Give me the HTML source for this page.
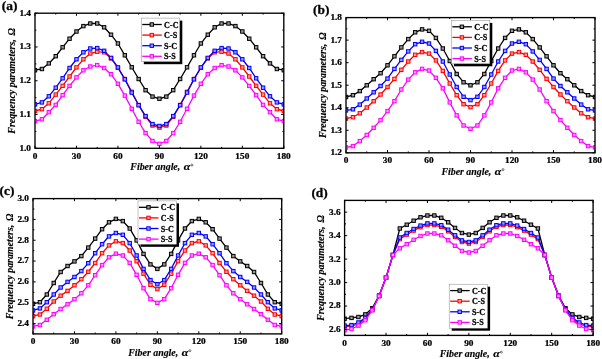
<!DOCTYPE html>
<html><head><meta charset="utf-8"><style>
html,body{margin:0;padding:0;background:#fff;}
svg{display:block;will-change:transform;}
text{font-family:"Liberation Serif",serif;font-weight:bold;fill:#000;}
.tk{font-size:8.3px;stroke:#000;stroke-width:0.25px;}
.ti{font-size:9.9px;font-style:italic;stroke:#000;stroke-width:0.15px;}
.al{font-size:9.9px;font-style:italic;stroke:#000;stroke-width:0.15px;}
.lg{font-size:8.7px;stroke:#000;stroke-width:0.25px;}
.lab{font-size:13.4px;stroke:#000;stroke-width:0.3px;}
</style></head><body>
<svg width="602" height="359" viewBox="0 0 602 359">
<rect width="602" height="359" fill="#fff"/>
<g><clipPath id="c0"><rect x="35" y="13.2" width="248.8" height="135.1"/></clipPath><g clip-path="url(#c0)">
<polyline points="35,70.2 41.91,69 48.82,63.4 55.73,56.2 62.64,47.3 69.56,38.7 76.47,31.5 83.38,26.1 90.29,23.5 97.2,23.5 104.11,27.3 111.02,34.7 117.93,43.5 124.84,55.3 131.76,67.3 138.67,79 145.58,90.2 152.49,96.6 159.4,98.7 166.31,96.6 173.22,90.2 180.13,79 187.04,67.3 193.96,55.3 200.87,43.5 207.78,34.7 214.69,27.3 221.6,23.5 228.51,23.5 235.42,26.1 242.33,31.5 249.24,38.7 256.16,47.3 263.07,56.2 269.98,63.4 276.89,69 283.8,70.2" fill="none" stroke="#000000" stroke-width="1.3"/>
<rect x="33.3" y="68.5" width="3.4" height="3.4" fill="#999999" stroke="#000000" stroke-width="1.0"/>
<rect x="40.21" y="67.3" width="3.4" height="3.4" fill="#999999" stroke="#000000" stroke-width="1.0"/>
<rect x="47.12" y="61.7" width="3.4" height="3.4" fill="#999999" stroke="#000000" stroke-width="1.0"/>
<rect x="54.03" y="54.5" width="3.4" height="3.4" fill="#999999" stroke="#000000" stroke-width="1.0"/>
<rect x="60.94" y="45.6" width="3.4" height="3.4" fill="#999999" stroke="#000000" stroke-width="1.0"/>
<rect x="67.86" y="37" width="3.4" height="3.4" fill="#999999" stroke="#000000" stroke-width="1.0"/>
<rect x="74.77" y="29.8" width="3.4" height="3.4" fill="#999999" stroke="#000000" stroke-width="1.0"/>
<rect x="81.68" y="24.4" width="3.4" height="3.4" fill="#999999" stroke="#000000" stroke-width="1.0"/>
<rect x="88.59" y="21.8" width="3.4" height="3.4" fill="#999999" stroke="#000000" stroke-width="1.0"/>
<rect x="95.5" y="21.8" width="3.4" height="3.4" fill="#999999" stroke="#000000" stroke-width="1.0"/>
<rect x="102.41" y="25.6" width="3.4" height="3.4" fill="#999999" stroke="#000000" stroke-width="1.0"/>
<rect x="109.32" y="33" width="3.4" height="3.4" fill="#999999" stroke="#000000" stroke-width="1.0"/>
<rect x="116.23" y="41.8" width="3.4" height="3.4" fill="#999999" stroke="#000000" stroke-width="1.0"/>
<rect x="123.14" y="53.6" width="3.4" height="3.4" fill="#999999" stroke="#000000" stroke-width="1.0"/>
<rect x="130.06" y="65.6" width="3.4" height="3.4" fill="#999999" stroke="#000000" stroke-width="1.0"/>
<rect x="136.97" y="77.3" width="3.4" height="3.4" fill="#999999" stroke="#000000" stroke-width="1.0"/>
<rect x="143.88" y="88.5" width="3.4" height="3.4" fill="#999999" stroke="#000000" stroke-width="1.0"/>
<rect x="150.79" y="94.9" width="3.4" height="3.4" fill="#999999" stroke="#000000" stroke-width="1.0"/>
<rect x="157.7" y="97" width="3.4" height="3.4" fill="#999999" stroke="#000000" stroke-width="1.0"/>
<rect x="164.61" y="94.9" width="3.4" height="3.4" fill="#999999" stroke="#000000" stroke-width="1.0"/>
<rect x="171.52" y="88.5" width="3.4" height="3.4" fill="#999999" stroke="#000000" stroke-width="1.0"/>
<rect x="178.43" y="77.3" width="3.4" height="3.4" fill="#999999" stroke="#000000" stroke-width="1.0"/>
<rect x="185.34" y="65.6" width="3.4" height="3.4" fill="#999999" stroke="#000000" stroke-width="1.0"/>
<rect x="192.26" y="53.6" width="3.4" height="3.4" fill="#999999" stroke="#000000" stroke-width="1.0"/>
<rect x="199.17" y="41.8" width="3.4" height="3.4" fill="#999999" stroke="#000000" stroke-width="1.0"/>
<rect x="206.08" y="33" width="3.4" height="3.4" fill="#999999" stroke="#000000" stroke-width="1.0"/>
<rect x="212.99" y="25.6" width="3.4" height="3.4" fill="#999999" stroke="#000000" stroke-width="1.0"/>
<rect x="219.9" y="21.8" width="3.4" height="3.4" fill="#999999" stroke="#000000" stroke-width="1.0"/>
<rect x="226.81" y="21.8" width="3.4" height="3.4" fill="#999999" stroke="#000000" stroke-width="1.0"/>
<rect x="233.72" y="24.4" width="3.4" height="3.4" fill="#999999" stroke="#000000" stroke-width="1.0"/>
<rect x="240.63" y="29.8" width="3.4" height="3.4" fill="#999999" stroke="#000000" stroke-width="1.0"/>
<rect x="247.54" y="37" width="3.4" height="3.4" fill="#999999" stroke="#000000" stroke-width="1.0"/>
<rect x="254.46" y="45.6" width="3.4" height="3.4" fill="#999999" stroke="#000000" stroke-width="1.0"/>
<rect x="261.37" y="54.5" width="3.4" height="3.4" fill="#999999" stroke="#000000" stroke-width="1.0"/>
<rect x="268.28" y="61.7" width="3.4" height="3.4" fill="#999999" stroke="#000000" stroke-width="1.0"/>
<rect x="275.19" y="67.3" width="3.4" height="3.4" fill="#999999" stroke="#000000" stroke-width="1.0"/>
<rect x="282.1" y="68.5" width="3.4" height="3.4" fill="#999999" stroke="#000000" stroke-width="1.0"/>
<polyline points="35,111 41.91,109.2 48.82,103.3 55.73,94.6 62.64,85.8 69.56,76.5 76.47,67.4 83.38,59.3 90.29,53.5 97.2,51.7 104.11,52.3 111.02,58.4 117.93,67.8 124.84,79 131.76,91.8 138.67,105 145.58,116.8 152.49,125.5 159.4,127.6 166.31,125.5 173.22,116.8 180.13,105 187.04,91.8 193.96,79 200.87,67.8 207.78,58.4 214.69,52.3 221.6,51.7 228.51,53.5 235.42,59.3 242.33,67.4 249.24,76.5 256.16,85.8 263.07,94.6 269.98,103.3 276.89,109.2 283.8,111" fill="none" stroke="#ff0000" stroke-width="1.3"/>
<rect x="33.3" y="109.3" width="3.4" height="3.4" fill="#ff9999" stroke="#ff0000" stroke-width="1.0"/>
<rect x="40.21" y="107.5" width="3.4" height="3.4" fill="#ff9999" stroke="#ff0000" stroke-width="1.0"/>
<rect x="47.12" y="101.6" width="3.4" height="3.4" fill="#ff9999" stroke="#ff0000" stroke-width="1.0"/>
<rect x="54.03" y="92.9" width="3.4" height="3.4" fill="#ff9999" stroke="#ff0000" stroke-width="1.0"/>
<rect x="60.94" y="84.1" width="3.4" height="3.4" fill="#ff9999" stroke="#ff0000" stroke-width="1.0"/>
<rect x="67.86" y="74.8" width="3.4" height="3.4" fill="#ff9999" stroke="#ff0000" stroke-width="1.0"/>
<rect x="74.77" y="65.7" width="3.4" height="3.4" fill="#ff9999" stroke="#ff0000" stroke-width="1.0"/>
<rect x="81.68" y="57.6" width="3.4" height="3.4" fill="#ff9999" stroke="#ff0000" stroke-width="1.0"/>
<rect x="88.59" y="51.8" width="3.4" height="3.4" fill="#ff9999" stroke="#ff0000" stroke-width="1.0"/>
<rect x="95.5" y="50" width="3.4" height="3.4" fill="#ff9999" stroke="#ff0000" stroke-width="1.0"/>
<rect x="102.41" y="50.6" width="3.4" height="3.4" fill="#ff9999" stroke="#ff0000" stroke-width="1.0"/>
<rect x="109.32" y="56.7" width="3.4" height="3.4" fill="#ff9999" stroke="#ff0000" stroke-width="1.0"/>
<rect x="116.23" y="66.1" width="3.4" height="3.4" fill="#ff9999" stroke="#ff0000" stroke-width="1.0"/>
<rect x="123.14" y="77.3" width="3.4" height="3.4" fill="#ff9999" stroke="#ff0000" stroke-width="1.0"/>
<rect x="130.06" y="90.1" width="3.4" height="3.4" fill="#ff9999" stroke="#ff0000" stroke-width="1.0"/>
<rect x="136.97" y="103.3" width="3.4" height="3.4" fill="#ff9999" stroke="#ff0000" stroke-width="1.0"/>
<rect x="143.88" y="115.1" width="3.4" height="3.4" fill="#ff9999" stroke="#ff0000" stroke-width="1.0"/>
<rect x="150.79" y="123.8" width="3.4" height="3.4" fill="#ff9999" stroke="#ff0000" stroke-width="1.0"/>
<rect x="157.7" y="125.9" width="3.4" height="3.4" fill="#ff9999" stroke="#ff0000" stroke-width="1.0"/>
<rect x="164.61" y="123.8" width="3.4" height="3.4" fill="#ff9999" stroke="#ff0000" stroke-width="1.0"/>
<rect x="171.52" y="115.1" width="3.4" height="3.4" fill="#ff9999" stroke="#ff0000" stroke-width="1.0"/>
<rect x="178.43" y="103.3" width="3.4" height="3.4" fill="#ff9999" stroke="#ff0000" stroke-width="1.0"/>
<rect x="185.34" y="90.1" width="3.4" height="3.4" fill="#ff9999" stroke="#ff0000" stroke-width="1.0"/>
<rect x="192.26" y="77.3" width="3.4" height="3.4" fill="#ff9999" stroke="#ff0000" stroke-width="1.0"/>
<rect x="199.17" y="66.1" width="3.4" height="3.4" fill="#ff9999" stroke="#ff0000" stroke-width="1.0"/>
<rect x="206.08" y="56.7" width="3.4" height="3.4" fill="#ff9999" stroke="#ff0000" stroke-width="1.0"/>
<rect x="212.99" y="50.6" width="3.4" height="3.4" fill="#ff9999" stroke="#ff0000" stroke-width="1.0"/>
<rect x="219.9" y="50" width="3.4" height="3.4" fill="#ff9999" stroke="#ff0000" stroke-width="1.0"/>
<rect x="226.81" y="51.8" width="3.4" height="3.4" fill="#ff9999" stroke="#ff0000" stroke-width="1.0"/>
<rect x="233.72" y="57.6" width="3.4" height="3.4" fill="#ff9999" stroke="#ff0000" stroke-width="1.0"/>
<rect x="240.63" y="65.7" width="3.4" height="3.4" fill="#ff9999" stroke="#ff0000" stroke-width="1.0"/>
<rect x="247.54" y="74.8" width="3.4" height="3.4" fill="#ff9999" stroke="#ff0000" stroke-width="1.0"/>
<rect x="254.46" y="84.1" width="3.4" height="3.4" fill="#ff9999" stroke="#ff0000" stroke-width="1.0"/>
<rect x="261.37" y="92.9" width="3.4" height="3.4" fill="#ff9999" stroke="#ff0000" stroke-width="1.0"/>
<rect x="268.28" y="101.6" width="3.4" height="3.4" fill="#ff9999" stroke="#ff0000" stroke-width="1.0"/>
<rect x="275.19" y="107.5" width="3.4" height="3.4" fill="#ff9999" stroke="#ff0000" stroke-width="1.0"/>
<rect x="282.1" y="109.3" width="3.4" height="3.4" fill="#ff9999" stroke="#ff0000" stroke-width="1.0"/>
<polyline points="35,104.4 41.91,102.4 48.82,96.3 55.73,87.7 62.64,78.3 69.56,68 76.47,59.3 83.38,52.3 90.29,48.5 97.2,48.1 104.11,50.8 111.02,57.9 117.93,67.4 124.84,79.3 131.76,92.6 138.67,105.2 145.58,116.1 152.49,124.1 159.4,126 166.31,124.1 173.22,116.1 180.13,105.2 187.04,92.6 193.96,79.3 200.87,67.4 207.78,57.9 214.69,50.8 221.6,48.1 228.51,48.5 235.42,52.3 242.33,59.3 249.24,68 256.16,78.3 263.07,87.7 269.98,96.3 276.89,102.4 283.8,104.4" fill="none" stroke="#0000ff" stroke-width="1.3"/>
<rect x="33.3" y="102.7" width="3.4" height="3.4" fill="#9999ff" stroke="#0000ff" stroke-width="1.0"/>
<rect x="40.21" y="100.7" width="3.4" height="3.4" fill="#9999ff" stroke="#0000ff" stroke-width="1.0"/>
<rect x="47.12" y="94.6" width="3.4" height="3.4" fill="#9999ff" stroke="#0000ff" stroke-width="1.0"/>
<rect x="54.03" y="86" width="3.4" height="3.4" fill="#9999ff" stroke="#0000ff" stroke-width="1.0"/>
<rect x="60.94" y="76.6" width="3.4" height="3.4" fill="#9999ff" stroke="#0000ff" stroke-width="1.0"/>
<rect x="67.86" y="66.3" width="3.4" height="3.4" fill="#9999ff" stroke="#0000ff" stroke-width="1.0"/>
<rect x="74.77" y="57.6" width="3.4" height="3.4" fill="#9999ff" stroke="#0000ff" stroke-width="1.0"/>
<rect x="81.68" y="50.6" width="3.4" height="3.4" fill="#9999ff" stroke="#0000ff" stroke-width="1.0"/>
<rect x="88.59" y="46.8" width="3.4" height="3.4" fill="#9999ff" stroke="#0000ff" stroke-width="1.0"/>
<rect x="95.5" y="46.4" width="3.4" height="3.4" fill="#9999ff" stroke="#0000ff" stroke-width="1.0"/>
<rect x="102.41" y="49.1" width="3.4" height="3.4" fill="#9999ff" stroke="#0000ff" stroke-width="1.0"/>
<rect x="109.32" y="56.2" width="3.4" height="3.4" fill="#9999ff" stroke="#0000ff" stroke-width="1.0"/>
<rect x="116.23" y="65.7" width="3.4" height="3.4" fill="#9999ff" stroke="#0000ff" stroke-width="1.0"/>
<rect x="123.14" y="77.6" width="3.4" height="3.4" fill="#9999ff" stroke="#0000ff" stroke-width="1.0"/>
<rect x="130.06" y="90.9" width="3.4" height="3.4" fill="#9999ff" stroke="#0000ff" stroke-width="1.0"/>
<rect x="136.97" y="103.5" width="3.4" height="3.4" fill="#9999ff" stroke="#0000ff" stroke-width="1.0"/>
<rect x="143.88" y="114.4" width="3.4" height="3.4" fill="#9999ff" stroke="#0000ff" stroke-width="1.0"/>
<rect x="150.79" y="122.4" width="3.4" height="3.4" fill="#9999ff" stroke="#0000ff" stroke-width="1.0"/>
<rect x="157.7" y="124.3" width="3.4" height="3.4" fill="#9999ff" stroke="#0000ff" stroke-width="1.0"/>
<rect x="164.61" y="122.4" width="3.4" height="3.4" fill="#9999ff" stroke="#0000ff" stroke-width="1.0"/>
<rect x="171.52" y="114.4" width="3.4" height="3.4" fill="#9999ff" stroke="#0000ff" stroke-width="1.0"/>
<rect x="178.43" y="103.5" width="3.4" height="3.4" fill="#9999ff" stroke="#0000ff" stroke-width="1.0"/>
<rect x="185.34" y="90.9" width="3.4" height="3.4" fill="#9999ff" stroke="#0000ff" stroke-width="1.0"/>
<rect x="192.26" y="77.6" width="3.4" height="3.4" fill="#9999ff" stroke="#0000ff" stroke-width="1.0"/>
<rect x="199.17" y="65.7" width="3.4" height="3.4" fill="#9999ff" stroke="#0000ff" stroke-width="1.0"/>
<rect x="206.08" y="56.2" width="3.4" height="3.4" fill="#9999ff" stroke="#0000ff" stroke-width="1.0"/>
<rect x="212.99" y="49.1" width="3.4" height="3.4" fill="#9999ff" stroke="#0000ff" stroke-width="1.0"/>
<rect x="219.9" y="46.4" width="3.4" height="3.4" fill="#9999ff" stroke="#0000ff" stroke-width="1.0"/>
<rect x="226.81" y="46.8" width="3.4" height="3.4" fill="#9999ff" stroke="#0000ff" stroke-width="1.0"/>
<rect x="233.72" y="50.6" width="3.4" height="3.4" fill="#9999ff" stroke="#0000ff" stroke-width="1.0"/>
<rect x="240.63" y="57.6" width="3.4" height="3.4" fill="#9999ff" stroke="#0000ff" stroke-width="1.0"/>
<rect x="247.54" y="66.3" width="3.4" height="3.4" fill="#9999ff" stroke="#0000ff" stroke-width="1.0"/>
<rect x="254.46" y="76.6" width="3.4" height="3.4" fill="#9999ff" stroke="#0000ff" stroke-width="1.0"/>
<rect x="261.37" y="86" width="3.4" height="3.4" fill="#9999ff" stroke="#0000ff" stroke-width="1.0"/>
<rect x="268.28" y="94.6" width="3.4" height="3.4" fill="#9999ff" stroke="#0000ff" stroke-width="1.0"/>
<rect x="275.19" y="100.7" width="3.4" height="3.4" fill="#9999ff" stroke="#0000ff" stroke-width="1.0"/>
<rect x="282.1" y="102.7" width="3.4" height="3.4" fill="#9999ff" stroke="#0000ff" stroke-width="1.0"/>
<polyline points="35,121.1 41.91,119.3 48.82,112.2 55.73,104.9 62.64,95.1 69.56,85.9 76.47,77.4 83.38,70.3 90.29,66.5 97.2,65.1 104.11,68 111.02,74.2 117.93,83.8 124.84,95.6 131.76,108.8 138.67,121.8 145.58,133.1 152.49,141 159.4,143.8 166.31,141 173.22,133.1 180.13,121.8 187.04,108.8 193.96,95.6 200.87,83.8 207.78,74.2 214.69,68 221.6,65.1 228.51,66.5 235.42,70.3 242.33,77.4 249.24,85.9 256.16,95.1 263.07,104.9 269.98,112.2 276.89,119.3 283.8,121.1" fill="none" stroke="#ff00ff" stroke-width="1.3"/>
<rect x="33.3" y="119.4" width="3.4" height="3.4" fill="#ff99ff" stroke="#ff00ff" stroke-width="1.0"/>
<rect x="40.21" y="117.6" width="3.4" height="3.4" fill="#ff99ff" stroke="#ff00ff" stroke-width="1.0"/>
<rect x="47.12" y="110.5" width="3.4" height="3.4" fill="#ff99ff" stroke="#ff00ff" stroke-width="1.0"/>
<rect x="54.03" y="103.2" width="3.4" height="3.4" fill="#ff99ff" stroke="#ff00ff" stroke-width="1.0"/>
<rect x="60.94" y="93.4" width="3.4" height="3.4" fill="#ff99ff" stroke="#ff00ff" stroke-width="1.0"/>
<rect x="67.86" y="84.2" width="3.4" height="3.4" fill="#ff99ff" stroke="#ff00ff" stroke-width="1.0"/>
<rect x="74.77" y="75.7" width="3.4" height="3.4" fill="#ff99ff" stroke="#ff00ff" stroke-width="1.0"/>
<rect x="81.68" y="68.6" width="3.4" height="3.4" fill="#ff99ff" stroke="#ff00ff" stroke-width="1.0"/>
<rect x="88.59" y="64.8" width="3.4" height="3.4" fill="#ff99ff" stroke="#ff00ff" stroke-width="1.0"/>
<rect x="95.5" y="63.4" width="3.4" height="3.4" fill="#ff99ff" stroke="#ff00ff" stroke-width="1.0"/>
<rect x="102.41" y="66.3" width="3.4" height="3.4" fill="#ff99ff" stroke="#ff00ff" stroke-width="1.0"/>
<rect x="109.32" y="72.5" width="3.4" height="3.4" fill="#ff99ff" stroke="#ff00ff" stroke-width="1.0"/>
<rect x="116.23" y="82.1" width="3.4" height="3.4" fill="#ff99ff" stroke="#ff00ff" stroke-width="1.0"/>
<rect x="123.14" y="93.9" width="3.4" height="3.4" fill="#ff99ff" stroke="#ff00ff" stroke-width="1.0"/>
<rect x="130.06" y="107.1" width="3.4" height="3.4" fill="#ff99ff" stroke="#ff00ff" stroke-width="1.0"/>
<rect x="136.97" y="120.1" width="3.4" height="3.4" fill="#ff99ff" stroke="#ff00ff" stroke-width="1.0"/>
<rect x="143.88" y="131.4" width="3.4" height="3.4" fill="#ff99ff" stroke="#ff00ff" stroke-width="1.0"/>
<rect x="150.79" y="139.3" width="3.4" height="3.4" fill="#ff99ff" stroke="#ff00ff" stroke-width="1.0"/>
<rect x="157.7" y="142.1" width="3.4" height="3.4" fill="#ff99ff" stroke="#ff00ff" stroke-width="1.0"/>
<rect x="164.61" y="139.3" width="3.4" height="3.4" fill="#ff99ff" stroke="#ff00ff" stroke-width="1.0"/>
<rect x="171.52" y="131.4" width="3.4" height="3.4" fill="#ff99ff" stroke="#ff00ff" stroke-width="1.0"/>
<rect x="178.43" y="120.1" width="3.4" height="3.4" fill="#ff99ff" stroke="#ff00ff" stroke-width="1.0"/>
<rect x="185.34" y="107.1" width="3.4" height="3.4" fill="#ff99ff" stroke="#ff00ff" stroke-width="1.0"/>
<rect x="192.26" y="93.9" width="3.4" height="3.4" fill="#ff99ff" stroke="#ff00ff" stroke-width="1.0"/>
<rect x="199.17" y="82.1" width="3.4" height="3.4" fill="#ff99ff" stroke="#ff00ff" stroke-width="1.0"/>
<rect x="206.08" y="72.5" width="3.4" height="3.4" fill="#ff99ff" stroke="#ff00ff" stroke-width="1.0"/>
<rect x="212.99" y="66.3" width="3.4" height="3.4" fill="#ff99ff" stroke="#ff00ff" stroke-width="1.0"/>
<rect x="219.9" y="63.4" width="3.4" height="3.4" fill="#ff99ff" stroke="#ff00ff" stroke-width="1.0"/>
<rect x="226.81" y="64.8" width="3.4" height="3.4" fill="#ff99ff" stroke="#ff00ff" stroke-width="1.0"/>
<rect x="233.72" y="68.6" width="3.4" height="3.4" fill="#ff99ff" stroke="#ff00ff" stroke-width="1.0"/>
<rect x="240.63" y="75.7" width="3.4" height="3.4" fill="#ff99ff" stroke="#ff00ff" stroke-width="1.0"/>
<rect x="247.54" y="84.2" width="3.4" height="3.4" fill="#ff99ff" stroke="#ff00ff" stroke-width="1.0"/>
<rect x="254.46" y="93.4" width="3.4" height="3.4" fill="#ff99ff" stroke="#ff00ff" stroke-width="1.0"/>
<rect x="261.37" y="103.2" width="3.4" height="3.4" fill="#ff99ff" stroke="#ff00ff" stroke-width="1.0"/>
<rect x="268.28" y="110.5" width="3.4" height="3.4" fill="#ff99ff" stroke="#ff00ff" stroke-width="1.0"/>
<rect x="275.19" y="117.6" width="3.4" height="3.4" fill="#ff99ff" stroke="#ff00ff" stroke-width="1.0"/>
<rect x="282.1" y="119.4" width="3.4" height="3.4" fill="#ff99ff" stroke="#ff00ff" stroke-width="1.0"/>
</g>
<path d="M35 148.3v-2.6 M35 13.2v2.6 M55.73 148.3v-1.4 M55.73 13.2v1.4 M76.47 148.3v-2.6 M76.47 13.2v2.6 M97.2 148.3v-1.4 M97.2 13.2v1.4 M117.93 148.3v-2.6 M117.93 13.2v2.6 M138.67 148.3v-1.4 M138.67 13.2v1.4 M159.4 148.3v-2.6 M159.4 13.2v2.6 M180.13 148.3v-1.4 M180.13 13.2v1.4 M200.87 148.3v-2.6 M200.87 13.2v2.6 M221.6 148.3v-1.4 M221.6 13.2v1.4 M242.33 148.3v-2.6 M242.33 13.2v2.6 M263.07 148.3v-1.4 M263.07 13.2v1.4 M283.8 148.3v-2.6 M283.8 13.2v2.6 M35 148.3h2.6 M283.8 148.3h-2.6 M35 131.41h1.4 M283.8 131.41h-1.4 M35 114.52h2.6 M283.8 114.52h-2.6 M35 97.64h1.4 M283.8 97.64h-1.4 M35 80.75h2.6 M283.8 80.75h-2.6 M35 63.86h1.4 M283.8 63.86h-1.4 M35 46.97h2.6 M283.8 46.97h-2.6 M35 30.09h1.4 M283.8 30.09h-1.4 M35 13.2h2.6 M283.8 13.2h-2.6" stroke="#000" stroke-width="1" fill="none"/>
<rect x="35" y="13.2" width="248.8" height="135.1" fill="none" stroke="#000" stroke-width="1.35"/>
<text transform="translate(35 158.5) scale(1.12 1)" class="tk" text-anchor="middle">0</text>
<text transform="translate(76.47 158.5) scale(1.12 1)" class="tk" text-anchor="middle">30</text>
<text transform="translate(117.93 158.5) scale(1.12 1)" class="tk" text-anchor="middle">60</text>
<text transform="translate(159.4 158.5) scale(1.12 1)" class="tk" text-anchor="middle">90</text>
<text transform="translate(200.87 158.5) scale(1.12 1)" class="tk" text-anchor="middle">120</text>
<text transform="translate(242.33 158.5) scale(1.12 1)" class="tk" text-anchor="middle">150</text>
<text transform="translate(283.8 158.5) scale(1.12 1)" class="tk" text-anchor="middle">180</text>
<text transform="translate(31 150.7) scale(1.12 1)" class="tk" text-anchor="end">1.0</text>
<text transform="translate(31 116.92) scale(1.12 1)" class="tk" text-anchor="end">1.1</text>
<text transform="translate(31 83.15) scale(1.12 1)" class="tk" text-anchor="end">1.2</text>
<text transform="translate(31 49.37) scale(1.12 1)" class="tk" text-anchor="end">1.3</text>
<text transform="translate(31 15.6) scale(1.12 1)" class="tk" text-anchor="end">1.4</text>
<text x="130.3" y="170.1" class="ti">Fiber angle,</text>
<text transform="translate(183.7 170.1) scale(1.2 1)" class="al">&#945;</text>
<circle cx="191.9" cy="165.1" r="1.0" fill="none" stroke="#000" stroke-width="0.55"/>
<text transform="translate(14.7 80.85) rotate(-90)" class="ti" text-anchor="middle">Frequency parameters,<tspan dx="3.9">&#937;</tspan></text>
<text x="1.8" y="9.7" class="lab">(a)</text>
<rect x="143.8" y="20.6" width="38.5" height="43.6" fill="#000"/>
<rect x="141.3" y="18.1" width="38.5" height="43.6" fill="#fff" stroke="#888" stroke-width="0.5"/>
<line x1="142.3" y1="24.5" x2="161.8" y2="24.5" stroke="#000000" stroke-width="1.3"/>
<rect x="150.1" y="22.8" width="3.4" height="3.4" fill="#999999" stroke="#000000" stroke-width="1.0"/>
<text transform="translate(164.1 27.5) scale(0.935 1)" class="lg">C-C</text>
<line x1="142.3" y1="35.1" x2="161.8" y2="35.1" stroke="#ff0000" stroke-width="1.3"/>
<rect x="150.1" y="33.4" width="3.4" height="3.4" fill="#ff9999" stroke="#ff0000" stroke-width="1.0"/>
<text transform="translate(164.1 38.1) scale(0.935 1)" class="lg">C-S</text>
<line x1="142.3" y1="45.7" x2="161.8" y2="45.7" stroke="#0000ff" stroke-width="1.3"/>
<rect x="150.1" y="44" width="3.4" height="3.4" fill="#9999ff" stroke="#0000ff" stroke-width="1.0"/>
<text transform="translate(164.1 48.7) scale(0.935 1)" class="lg">S-C</text>
<line x1="142.3" y1="56.3" x2="161.8" y2="56.3" stroke="#ff00ff" stroke-width="1.3"/>
<rect x="150.1" y="54.6" width="3.4" height="3.4" fill="#ff99ff" stroke="#ff00ff" stroke-width="1.0"/>
<text transform="translate(164.1 59.3) scale(0.935 1)" class="lg">S-S</text></g>
<g><clipPath id="c1"><rect x="346" y="17.6" width="249" height="135.2"/></clipPath><g clip-path="url(#c1)">
<polyline points="346,97 352.92,95.2 359.83,91.1 366.75,85.3 373.67,79.2 380.58,73.2 387.5,65.3 394.42,56.3 401.33,47.4 408.25,39.1 415.17,32.3 422.08,29.4 429,30.8 435.92,37.9 442.83,48.5 449.75,61 456.67,74 463.58,82.3 470.5,85.3 477.42,82.3 484.33,74 491.25,61 498.17,48.5 505.08,37.9 512,30.8 518.92,29.4 525.83,32.3 532.75,39.1 539.67,47.4 546.58,56.3 553.5,65.3 560.42,73.2 567.33,79.2 574.25,85.3 581.17,91.1 588.08,95.2 595,97" fill="none" stroke="#000000" stroke-width="1.3"/>
<rect x="344.3" y="95.3" width="3.4" height="3.4" fill="#999999" stroke="#000000" stroke-width="1.0"/>
<rect x="351.22" y="93.5" width="3.4" height="3.4" fill="#999999" stroke="#000000" stroke-width="1.0"/>
<rect x="358.13" y="89.4" width="3.4" height="3.4" fill="#999999" stroke="#000000" stroke-width="1.0"/>
<rect x="365.05" y="83.6" width="3.4" height="3.4" fill="#999999" stroke="#000000" stroke-width="1.0"/>
<rect x="371.97" y="77.5" width="3.4" height="3.4" fill="#999999" stroke="#000000" stroke-width="1.0"/>
<rect x="378.88" y="71.5" width="3.4" height="3.4" fill="#999999" stroke="#000000" stroke-width="1.0"/>
<rect x="385.8" y="63.6" width="3.4" height="3.4" fill="#999999" stroke="#000000" stroke-width="1.0"/>
<rect x="392.72" y="54.6" width="3.4" height="3.4" fill="#999999" stroke="#000000" stroke-width="1.0"/>
<rect x="399.63" y="45.7" width="3.4" height="3.4" fill="#999999" stroke="#000000" stroke-width="1.0"/>
<rect x="406.55" y="37.4" width="3.4" height="3.4" fill="#999999" stroke="#000000" stroke-width="1.0"/>
<rect x="413.47" y="30.6" width="3.4" height="3.4" fill="#999999" stroke="#000000" stroke-width="1.0"/>
<rect x="420.38" y="27.7" width="3.4" height="3.4" fill="#999999" stroke="#000000" stroke-width="1.0"/>
<rect x="427.3" y="29.1" width="3.4" height="3.4" fill="#999999" stroke="#000000" stroke-width="1.0"/>
<rect x="434.22" y="36.2" width="3.4" height="3.4" fill="#999999" stroke="#000000" stroke-width="1.0"/>
<rect x="441.13" y="46.8" width="3.4" height="3.4" fill="#999999" stroke="#000000" stroke-width="1.0"/>
<rect x="448.05" y="59.3" width="3.4" height="3.4" fill="#999999" stroke="#000000" stroke-width="1.0"/>
<rect x="454.97" y="72.3" width="3.4" height="3.4" fill="#999999" stroke="#000000" stroke-width="1.0"/>
<rect x="461.88" y="80.6" width="3.4" height="3.4" fill="#999999" stroke="#000000" stroke-width="1.0"/>
<rect x="468.8" y="83.6" width="3.4" height="3.4" fill="#999999" stroke="#000000" stroke-width="1.0"/>
<rect x="475.72" y="80.6" width="3.4" height="3.4" fill="#999999" stroke="#000000" stroke-width="1.0"/>
<rect x="482.63" y="72.3" width="3.4" height="3.4" fill="#999999" stroke="#000000" stroke-width="1.0"/>
<rect x="489.55" y="59.3" width="3.4" height="3.4" fill="#999999" stroke="#000000" stroke-width="1.0"/>
<rect x="496.47" y="46.8" width="3.4" height="3.4" fill="#999999" stroke="#000000" stroke-width="1.0"/>
<rect x="503.38" y="36.2" width="3.4" height="3.4" fill="#999999" stroke="#000000" stroke-width="1.0"/>
<rect x="510.3" y="29.1" width="3.4" height="3.4" fill="#999999" stroke="#000000" stroke-width="1.0"/>
<rect x="517.22" y="27.7" width="3.4" height="3.4" fill="#999999" stroke="#000000" stroke-width="1.0"/>
<rect x="524.13" y="30.6" width="3.4" height="3.4" fill="#999999" stroke="#000000" stroke-width="1.0"/>
<rect x="531.05" y="37.4" width="3.4" height="3.4" fill="#999999" stroke="#000000" stroke-width="1.0"/>
<rect x="537.97" y="45.7" width="3.4" height="3.4" fill="#999999" stroke="#000000" stroke-width="1.0"/>
<rect x="544.88" y="54.6" width="3.4" height="3.4" fill="#999999" stroke="#000000" stroke-width="1.0"/>
<rect x="551.8" y="63.6" width="3.4" height="3.4" fill="#999999" stroke="#000000" stroke-width="1.0"/>
<rect x="558.72" y="71.5" width="3.4" height="3.4" fill="#999999" stroke="#000000" stroke-width="1.0"/>
<rect x="565.63" y="77.5" width="3.4" height="3.4" fill="#999999" stroke="#000000" stroke-width="1.0"/>
<rect x="572.55" y="83.6" width="3.4" height="3.4" fill="#999999" stroke="#000000" stroke-width="1.0"/>
<rect x="579.47" y="89.4" width="3.4" height="3.4" fill="#999999" stroke="#000000" stroke-width="1.0"/>
<rect x="586.38" y="93.5" width="3.4" height="3.4" fill="#999999" stroke="#000000" stroke-width="1.0"/>
<rect x="593.3" y="95.3" width="3.4" height="3.4" fill="#999999" stroke="#000000" stroke-width="1.0"/>
<polyline points="346,118.6 352.92,117.2 359.83,113.3 366.75,107.5 373.67,101.2 380.58,94.5 387.5,87 394.42,78.9 401.33,69.8 408.25,61.5 415.17,54.8 422.08,52.1 429,53.6 435.92,60.4 442.83,70.9 449.75,83.5 456.67,95.2 463.58,104.2 470.5,107.1 477.42,104.2 484.33,95.2 491.25,83.5 498.17,70.9 505.08,60.4 512,53.6 518.92,52.1 525.83,54.8 532.75,61.5 539.67,69.8 546.58,78.9 553.5,87 560.42,94.5 567.33,101.2 574.25,107.5 581.17,113.3 588.08,117.2 595,118.6" fill="none" stroke="#ff0000" stroke-width="1.3"/>
<rect x="344.3" y="116.9" width="3.4" height="3.4" fill="#ff9999" stroke="#ff0000" stroke-width="1.0"/>
<rect x="351.22" y="115.5" width="3.4" height="3.4" fill="#ff9999" stroke="#ff0000" stroke-width="1.0"/>
<rect x="358.13" y="111.6" width="3.4" height="3.4" fill="#ff9999" stroke="#ff0000" stroke-width="1.0"/>
<rect x="365.05" y="105.8" width="3.4" height="3.4" fill="#ff9999" stroke="#ff0000" stroke-width="1.0"/>
<rect x="371.97" y="99.5" width="3.4" height="3.4" fill="#ff9999" stroke="#ff0000" stroke-width="1.0"/>
<rect x="378.88" y="92.8" width="3.4" height="3.4" fill="#ff9999" stroke="#ff0000" stroke-width="1.0"/>
<rect x="385.8" y="85.3" width="3.4" height="3.4" fill="#ff9999" stroke="#ff0000" stroke-width="1.0"/>
<rect x="392.72" y="77.2" width="3.4" height="3.4" fill="#ff9999" stroke="#ff0000" stroke-width="1.0"/>
<rect x="399.63" y="68.1" width="3.4" height="3.4" fill="#ff9999" stroke="#ff0000" stroke-width="1.0"/>
<rect x="406.55" y="59.8" width="3.4" height="3.4" fill="#ff9999" stroke="#ff0000" stroke-width="1.0"/>
<rect x="413.47" y="53.1" width="3.4" height="3.4" fill="#ff9999" stroke="#ff0000" stroke-width="1.0"/>
<rect x="420.38" y="50.4" width="3.4" height="3.4" fill="#ff9999" stroke="#ff0000" stroke-width="1.0"/>
<rect x="427.3" y="51.9" width="3.4" height="3.4" fill="#ff9999" stroke="#ff0000" stroke-width="1.0"/>
<rect x="434.22" y="58.7" width="3.4" height="3.4" fill="#ff9999" stroke="#ff0000" stroke-width="1.0"/>
<rect x="441.13" y="69.2" width="3.4" height="3.4" fill="#ff9999" stroke="#ff0000" stroke-width="1.0"/>
<rect x="448.05" y="81.8" width="3.4" height="3.4" fill="#ff9999" stroke="#ff0000" stroke-width="1.0"/>
<rect x="454.97" y="93.5" width="3.4" height="3.4" fill="#ff9999" stroke="#ff0000" stroke-width="1.0"/>
<rect x="461.88" y="102.5" width="3.4" height="3.4" fill="#ff9999" stroke="#ff0000" stroke-width="1.0"/>
<rect x="468.8" y="105.4" width="3.4" height="3.4" fill="#ff9999" stroke="#ff0000" stroke-width="1.0"/>
<rect x="475.72" y="102.5" width="3.4" height="3.4" fill="#ff9999" stroke="#ff0000" stroke-width="1.0"/>
<rect x="482.63" y="93.5" width="3.4" height="3.4" fill="#ff9999" stroke="#ff0000" stroke-width="1.0"/>
<rect x="489.55" y="81.8" width="3.4" height="3.4" fill="#ff9999" stroke="#ff0000" stroke-width="1.0"/>
<rect x="496.47" y="69.2" width="3.4" height="3.4" fill="#ff9999" stroke="#ff0000" stroke-width="1.0"/>
<rect x="503.38" y="58.7" width="3.4" height="3.4" fill="#ff9999" stroke="#ff0000" stroke-width="1.0"/>
<rect x="510.3" y="51.9" width="3.4" height="3.4" fill="#ff9999" stroke="#ff0000" stroke-width="1.0"/>
<rect x="517.22" y="50.4" width="3.4" height="3.4" fill="#ff9999" stroke="#ff0000" stroke-width="1.0"/>
<rect x="524.13" y="53.1" width="3.4" height="3.4" fill="#ff9999" stroke="#ff0000" stroke-width="1.0"/>
<rect x="531.05" y="59.8" width="3.4" height="3.4" fill="#ff9999" stroke="#ff0000" stroke-width="1.0"/>
<rect x="537.97" y="68.1" width="3.4" height="3.4" fill="#ff9999" stroke="#ff0000" stroke-width="1.0"/>
<rect x="544.88" y="77.2" width="3.4" height="3.4" fill="#ff9999" stroke="#ff0000" stroke-width="1.0"/>
<rect x="551.8" y="85.3" width="3.4" height="3.4" fill="#ff9999" stroke="#ff0000" stroke-width="1.0"/>
<rect x="558.72" y="92.8" width="3.4" height="3.4" fill="#ff9999" stroke="#ff0000" stroke-width="1.0"/>
<rect x="565.63" y="99.5" width="3.4" height="3.4" fill="#ff9999" stroke="#ff0000" stroke-width="1.0"/>
<rect x="572.55" y="105.8" width="3.4" height="3.4" fill="#ff9999" stroke="#ff0000" stroke-width="1.0"/>
<rect x="579.47" y="111.6" width="3.4" height="3.4" fill="#ff9999" stroke="#ff0000" stroke-width="1.0"/>
<rect x="586.38" y="115.5" width="3.4" height="3.4" fill="#ff9999" stroke="#ff0000" stroke-width="1.0"/>
<rect x="593.3" y="116.9" width="3.4" height="3.4" fill="#ff9999" stroke="#ff0000" stroke-width="1.0"/>
<polyline points="346,110.4 352.92,109.3 359.83,104.6 366.75,98.5 373.67,92.3 380.58,86 387.5,78.6 394.42,68.9 401.33,59.9 408.25,51.4 415.17,44.2 422.08,41.8 429,43.5 435.92,50.9 442.83,61.5 449.75,74.5 456.67,87 463.58,96.8 470.5,100.1 477.42,96.8 484.33,87 491.25,74.5 498.17,61.5 505.08,50.9 512,43.5 518.92,41.8 525.83,44.2 532.75,51.4 539.67,59.9 546.58,68.9 553.5,78.6 560.42,86 567.33,92.3 574.25,98.5 581.17,104.6 588.08,109.3 595,110.4" fill="none" stroke="#0000ff" stroke-width="1.3"/>
<rect x="344.3" y="108.7" width="3.4" height="3.4" fill="#9999ff" stroke="#0000ff" stroke-width="1.0"/>
<rect x="351.22" y="107.6" width="3.4" height="3.4" fill="#9999ff" stroke="#0000ff" stroke-width="1.0"/>
<rect x="358.13" y="102.9" width="3.4" height="3.4" fill="#9999ff" stroke="#0000ff" stroke-width="1.0"/>
<rect x="365.05" y="96.8" width="3.4" height="3.4" fill="#9999ff" stroke="#0000ff" stroke-width="1.0"/>
<rect x="371.97" y="90.6" width="3.4" height="3.4" fill="#9999ff" stroke="#0000ff" stroke-width="1.0"/>
<rect x="378.88" y="84.3" width="3.4" height="3.4" fill="#9999ff" stroke="#0000ff" stroke-width="1.0"/>
<rect x="385.8" y="76.9" width="3.4" height="3.4" fill="#9999ff" stroke="#0000ff" stroke-width="1.0"/>
<rect x="392.72" y="67.2" width="3.4" height="3.4" fill="#9999ff" stroke="#0000ff" stroke-width="1.0"/>
<rect x="399.63" y="58.2" width="3.4" height="3.4" fill="#9999ff" stroke="#0000ff" stroke-width="1.0"/>
<rect x="406.55" y="49.7" width="3.4" height="3.4" fill="#9999ff" stroke="#0000ff" stroke-width="1.0"/>
<rect x="413.47" y="42.5" width="3.4" height="3.4" fill="#9999ff" stroke="#0000ff" stroke-width="1.0"/>
<rect x="420.38" y="40.1" width="3.4" height="3.4" fill="#9999ff" stroke="#0000ff" stroke-width="1.0"/>
<rect x="427.3" y="41.8" width="3.4" height="3.4" fill="#9999ff" stroke="#0000ff" stroke-width="1.0"/>
<rect x="434.22" y="49.2" width="3.4" height="3.4" fill="#9999ff" stroke="#0000ff" stroke-width="1.0"/>
<rect x="441.13" y="59.8" width="3.4" height="3.4" fill="#9999ff" stroke="#0000ff" stroke-width="1.0"/>
<rect x="448.05" y="72.8" width="3.4" height="3.4" fill="#9999ff" stroke="#0000ff" stroke-width="1.0"/>
<rect x="454.97" y="85.3" width="3.4" height="3.4" fill="#9999ff" stroke="#0000ff" stroke-width="1.0"/>
<rect x="461.88" y="95.1" width="3.4" height="3.4" fill="#9999ff" stroke="#0000ff" stroke-width="1.0"/>
<rect x="468.8" y="98.4" width="3.4" height="3.4" fill="#9999ff" stroke="#0000ff" stroke-width="1.0"/>
<rect x="475.72" y="95.1" width="3.4" height="3.4" fill="#9999ff" stroke="#0000ff" stroke-width="1.0"/>
<rect x="482.63" y="85.3" width="3.4" height="3.4" fill="#9999ff" stroke="#0000ff" stroke-width="1.0"/>
<rect x="489.55" y="72.8" width="3.4" height="3.4" fill="#9999ff" stroke="#0000ff" stroke-width="1.0"/>
<rect x="496.47" y="59.8" width="3.4" height="3.4" fill="#9999ff" stroke="#0000ff" stroke-width="1.0"/>
<rect x="503.38" y="49.2" width="3.4" height="3.4" fill="#9999ff" stroke="#0000ff" stroke-width="1.0"/>
<rect x="510.3" y="41.8" width="3.4" height="3.4" fill="#9999ff" stroke="#0000ff" stroke-width="1.0"/>
<rect x="517.22" y="40.1" width="3.4" height="3.4" fill="#9999ff" stroke="#0000ff" stroke-width="1.0"/>
<rect x="524.13" y="42.5" width="3.4" height="3.4" fill="#9999ff" stroke="#0000ff" stroke-width="1.0"/>
<rect x="531.05" y="49.7" width="3.4" height="3.4" fill="#9999ff" stroke="#0000ff" stroke-width="1.0"/>
<rect x="537.97" y="58.2" width="3.4" height="3.4" fill="#9999ff" stroke="#0000ff" stroke-width="1.0"/>
<rect x="544.88" y="67.2" width="3.4" height="3.4" fill="#9999ff" stroke="#0000ff" stroke-width="1.0"/>
<rect x="551.8" y="76.9" width="3.4" height="3.4" fill="#9999ff" stroke="#0000ff" stroke-width="1.0"/>
<rect x="558.72" y="84.3" width="3.4" height="3.4" fill="#9999ff" stroke="#0000ff" stroke-width="1.0"/>
<rect x="565.63" y="90.6" width="3.4" height="3.4" fill="#9999ff" stroke="#0000ff" stroke-width="1.0"/>
<rect x="572.55" y="96.8" width="3.4" height="3.4" fill="#9999ff" stroke="#0000ff" stroke-width="1.0"/>
<rect x="579.47" y="102.9" width="3.4" height="3.4" fill="#9999ff" stroke="#0000ff" stroke-width="1.0"/>
<rect x="586.38" y="107.6" width="3.4" height="3.4" fill="#9999ff" stroke="#0000ff" stroke-width="1.0"/>
<rect x="593.3" y="108.7" width="3.4" height="3.4" fill="#9999ff" stroke="#0000ff" stroke-width="1.0"/>
<polyline points="346,147.4 352.92,146.1 359.83,141.1 366.75,135 373.67,127.8 380.58,120.1 387.5,111.1 394.42,101.2 401.33,89.5 408.25,79.6 415.17,72.3 422.08,68.9 429,70.5 435.92,77.8 442.83,88.3 449.75,102.4 456.67,115.4 463.58,125.5 470.5,128.8 477.42,125.5 484.33,115.4 491.25,102.4 498.17,88.3 505.08,77.8 512,70.5 518.92,68.9 525.83,72.3 532.75,79.6 539.67,89.5 546.58,101.2 553.5,111.1 560.42,120.1 567.33,127.8 574.25,135 581.17,141.1 588.08,146.1 595,147.4" fill="none" stroke="#ff00ff" stroke-width="1.3"/>
<rect x="344.3" y="145.7" width="3.4" height="3.4" fill="#ff99ff" stroke="#ff00ff" stroke-width="1.0"/>
<rect x="351.22" y="144.4" width="3.4" height="3.4" fill="#ff99ff" stroke="#ff00ff" stroke-width="1.0"/>
<rect x="358.13" y="139.4" width="3.4" height="3.4" fill="#ff99ff" stroke="#ff00ff" stroke-width="1.0"/>
<rect x="365.05" y="133.3" width="3.4" height="3.4" fill="#ff99ff" stroke="#ff00ff" stroke-width="1.0"/>
<rect x="371.97" y="126.1" width="3.4" height="3.4" fill="#ff99ff" stroke="#ff00ff" stroke-width="1.0"/>
<rect x="378.88" y="118.4" width="3.4" height="3.4" fill="#ff99ff" stroke="#ff00ff" stroke-width="1.0"/>
<rect x="385.8" y="109.4" width="3.4" height="3.4" fill="#ff99ff" stroke="#ff00ff" stroke-width="1.0"/>
<rect x="392.72" y="99.5" width="3.4" height="3.4" fill="#ff99ff" stroke="#ff00ff" stroke-width="1.0"/>
<rect x="399.63" y="87.8" width="3.4" height="3.4" fill="#ff99ff" stroke="#ff00ff" stroke-width="1.0"/>
<rect x="406.55" y="77.9" width="3.4" height="3.4" fill="#ff99ff" stroke="#ff00ff" stroke-width="1.0"/>
<rect x="413.47" y="70.6" width="3.4" height="3.4" fill="#ff99ff" stroke="#ff00ff" stroke-width="1.0"/>
<rect x="420.38" y="67.2" width="3.4" height="3.4" fill="#ff99ff" stroke="#ff00ff" stroke-width="1.0"/>
<rect x="427.3" y="68.8" width="3.4" height="3.4" fill="#ff99ff" stroke="#ff00ff" stroke-width="1.0"/>
<rect x="434.22" y="76.1" width="3.4" height="3.4" fill="#ff99ff" stroke="#ff00ff" stroke-width="1.0"/>
<rect x="441.13" y="86.6" width="3.4" height="3.4" fill="#ff99ff" stroke="#ff00ff" stroke-width="1.0"/>
<rect x="448.05" y="100.7" width="3.4" height="3.4" fill="#ff99ff" stroke="#ff00ff" stroke-width="1.0"/>
<rect x="454.97" y="113.7" width="3.4" height="3.4" fill="#ff99ff" stroke="#ff00ff" stroke-width="1.0"/>
<rect x="461.88" y="123.8" width="3.4" height="3.4" fill="#ff99ff" stroke="#ff00ff" stroke-width="1.0"/>
<rect x="468.8" y="127.1" width="3.4" height="3.4" fill="#ff99ff" stroke="#ff00ff" stroke-width="1.0"/>
<rect x="475.72" y="123.8" width="3.4" height="3.4" fill="#ff99ff" stroke="#ff00ff" stroke-width="1.0"/>
<rect x="482.63" y="113.7" width="3.4" height="3.4" fill="#ff99ff" stroke="#ff00ff" stroke-width="1.0"/>
<rect x="489.55" y="100.7" width="3.4" height="3.4" fill="#ff99ff" stroke="#ff00ff" stroke-width="1.0"/>
<rect x="496.47" y="86.6" width="3.4" height="3.4" fill="#ff99ff" stroke="#ff00ff" stroke-width="1.0"/>
<rect x="503.38" y="76.1" width="3.4" height="3.4" fill="#ff99ff" stroke="#ff00ff" stroke-width="1.0"/>
<rect x="510.3" y="68.8" width="3.4" height="3.4" fill="#ff99ff" stroke="#ff00ff" stroke-width="1.0"/>
<rect x="517.22" y="67.2" width="3.4" height="3.4" fill="#ff99ff" stroke="#ff00ff" stroke-width="1.0"/>
<rect x="524.13" y="70.6" width="3.4" height="3.4" fill="#ff99ff" stroke="#ff00ff" stroke-width="1.0"/>
<rect x="531.05" y="77.9" width="3.4" height="3.4" fill="#ff99ff" stroke="#ff00ff" stroke-width="1.0"/>
<rect x="537.97" y="87.8" width="3.4" height="3.4" fill="#ff99ff" stroke="#ff00ff" stroke-width="1.0"/>
<rect x="544.88" y="99.5" width="3.4" height="3.4" fill="#ff99ff" stroke="#ff00ff" stroke-width="1.0"/>
<rect x="551.8" y="109.4" width="3.4" height="3.4" fill="#ff99ff" stroke="#ff00ff" stroke-width="1.0"/>
<rect x="558.72" y="118.4" width="3.4" height="3.4" fill="#ff99ff" stroke="#ff00ff" stroke-width="1.0"/>
<rect x="565.63" y="126.1" width="3.4" height="3.4" fill="#ff99ff" stroke="#ff00ff" stroke-width="1.0"/>
<rect x="572.55" y="133.3" width="3.4" height="3.4" fill="#ff99ff" stroke="#ff00ff" stroke-width="1.0"/>
<rect x="579.47" y="139.4" width="3.4" height="3.4" fill="#ff99ff" stroke="#ff00ff" stroke-width="1.0"/>
<rect x="586.38" y="144.4" width="3.4" height="3.4" fill="#ff99ff" stroke="#ff00ff" stroke-width="1.0"/>
<rect x="593.3" y="145.7" width="3.4" height="3.4" fill="#ff99ff" stroke="#ff00ff" stroke-width="1.0"/>
</g>
<path d="M346 152.8v-2.6 M346 17.6v2.6 M366.75 152.8v-1.4 M366.75 17.6v1.4 M387.5 152.8v-2.6 M387.5 17.6v2.6 M408.25 152.8v-1.4 M408.25 17.6v1.4 M429 152.8v-2.6 M429 17.6v2.6 M449.75 152.8v-1.4 M449.75 17.6v1.4 M470.5 152.8v-2.6 M470.5 17.6v2.6 M491.25 152.8v-1.4 M491.25 17.6v1.4 M512 152.8v-2.6 M512 17.6v2.6 M532.75 152.8v-1.4 M532.75 17.6v1.4 M553.5 152.8v-2.6 M553.5 17.6v2.6 M574.25 152.8v-1.4 M574.25 17.6v1.4 M595 152.8v-2.6 M595 17.6v2.6 M346 152.8h2.6 M595 152.8h-2.6 M346 141.53h1.4 M595 141.53h-1.4 M346 130.27h2.6 M595 130.27h-2.6 M346 119h1.4 M595 119h-1.4 M346 107.73h2.6 M595 107.73h-2.6 M346 96.47h1.4 M595 96.47h-1.4 M346 85.2h2.6 M595 85.2h-2.6 M346 73.93h1.4 M595 73.93h-1.4 M346 62.67h2.6 M595 62.67h-2.6 M346 51.4h1.4 M595 51.4h-1.4 M346 40.13h2.6 M595 40.13h-2.6 M346 28.87h1.4 M595 28.87h-1.4 M346 17.6h2.6 M595 17.6h-2.6" stroke="#000" stroke-width="1" fill="none"/>
<rect x="346" y="17.6" width="249" height="135.2" fill="none" stroke="#000" stroke-width="1.35"/>
<text transform="translate(346 163) scale(1.12 1)" class="tk" text-anchor="middle">0</text>
<text transform="translate(387.5 163) scale(1.12 1)" class="tk" text-anchor="middle">30</text>
<text transform="translate(429 163) scale(1.12 1)" class="tk" text-anchor="middle">60</text>
<text transform="translate(470.5 163) scale(1.12 1)" class="tk" text-anchor="middle">90</text>
<text transform="translate(512 163) scale(1.12 1)" class="tk" text-anchor="middle">120</text>
<text transform="translate(553.5 163) scale(1.12 1)" class="tk" text-anchor="middle">150</text>
<text transform="translate(595 163) scale(1.12 1)" class="tk" text-anchor="middle">180</text>
<text transform="translate(342 155.2) scale(1.12 1)" class="tk" text-anchor="end">1.2</text>
<text transform="translate(342 132.67) scale(1.12 1)" class="tk" text-anchor="end">1.3</text>
<text transform="translate(342 110.13) scale(1.12 1)" class="tk" text-anchor="end">1.4</text>
<text transform="translate(342 87.6) scale(1.12 1)" class="tk" text-anchor="end">1.5</text>
<text transform="translate(342 65.07) scale(1.12 1)" class="tk" text-anchor="end">1.6</text>
<text transform="translate(342 42.53) scale(1.12 1)" class="tk" text-anchor="end">1.7</text>
<text transform="translate(342 20) scale(1.12 1)" class="tk" text-anchor="end">1.8</text>
<text x="441.4" y="174.6" class="ti">Fiber angle,</text>
<text transform="translate(494.8 174.6) scale(1.2 1)" class="al">&#945;</text>
<circle cx="503" cy="169.6" r="1.0" fill="none" stroke="#000" stroke-width="0.55"/>
<text transform="translate(325.7 85.3) rotate(-90)" class="ti" text-anchor="middle">Frequency parameters,<tspan dx="3.9">&#937;</tspan></text>
<text x="313" y="14" class="lab">(b)</text>
<rect x="453.9" y="22.9" width="38.4" height="43.4" fill="#000"/>
<rect x="451.4" y="20.4" width="38.4" height="43.4" fill="#fff" stroke="#888" stroke-width="0.5"/>
<line x1="452.4" y1="26.8" x2="471.9" y2="26.8" stroke="#000000" stroke-width="1.3"/>
<rect x="460.2" y="25.1" width="3.4" height="3.4" fill="#999999" stroke="#000000" stroke-width="1.0"/>
<text transform="translate(474.2 29.8) scale(0.935 1)" class="lg">C-C</text>
<line x1="452.4" y1="37.4" x2="471.9" y2="37.4" stroke="#ff0000" stroke-width="1.3"/>
<rect x="460.2" y="35.7" width="3.4" height="3.4" fill="#ff9999" stroke="#ff0000" stroke-width="1.0"/>
<text transform="translate(474.2 40.4) scale(0.935 1)" class="lg">C-S</text>
<line x1="452.4" y1="48" x2="471.9" y2="48" stroke="#0000ff" stroke-width="1.3"/>
<rect x="460.2" y="46.3" width="3.4" height="3.4" fill="#9999ff" stroke="#0000ff" stroke-width="1.0"/>
<text transform="translate(474.2 51) scale(0.935 1)" class="lg">S-C</text>
<line x1="452.4" y1="58.6" x2="471.9" y2="58.6" stroke="#ff00ff" stroke-width="1.3"/>
<rect x="460.2" y="56.9" width="3.4" height="3.4" fill="#ff99ff" stroke="#ff00ff" stroke-width="1.0"/>
<text transform="translate(474.2 61.6) scale(0.935 1)" class="lg">S-S</text></g>
<g><clipPath id="c2"><rect x="33" y="198.6" width="248.7" height="135.3"/></clipPath><g clip-path="url(#c2)">
<polyline points="33,303.8 39.91,302.2 46.82,294.5 53.73,283 60.63,272 67.54,266 74.45,261.4 81.36,256.1 88.27,247.6 95.17,238.6 102.08,229.2 108.99,222.3 115.9,218.9 122.81,221.1 129.72,228.5 136.62,240.4 143.53,253.9 150.44,264.4 157.35,268.9 164.26,264.4 171.17,253.9 178.07,240.4 184.98,228.5 191.89,221.1 198.8,218.9 205.71,222.3 212.62,229.2 219.53,238.6 226.43,247.6 233.34,256.1 240.25,261.4 247.16,266 254.07,272 260.98,283 267.88,294.5 274.79,302.2 281.7,303.8" fill="none" stroke="#000000" stroke-width="1.3"/>
<rect x="31.3" y="302.1" width="3.4" height="3.4" fill="#999999" stroke="#000000" stroke-width="1.0"/>
<rect x="38.21" y="300.5" width="3.4" height="3.4" fill="#999999" stroke="#000000" stroke-width="1.0"/>
<rect x="45.12" y="292.8" width="3.4" height="3.4" fill="#999999" stroke="#000000" stroke-width="1.0"/>
<rect x="52.02" y="281.3" width="3.4" height="3.4" fill="#999999" stroke="#000000" stroke-width="1.0"/>
<rect x="58.93" y="270.3" width="3.4" height="3.4" fill="#999999" stroke="#000000" stroke-width="1.0"/>
<rect x="65.84" y="264.3" width="3.4" height="3.4" fill="#999999" stroke="#000000" stroke-width="1.0"/>
<rect x="72.75" y="259.7" width="3.4" height="3.4" fill="#999999" stroke="#000000" stroke-width="1.0"/>
<rect x="79.66" y="254.4" width="3.4" height="3.4" fill="#999999" stroke="#000000" stroke-width="1.0"/>
<rect x="86.57" y="245.9" width="3.4" height="3.4" fill="#999999" stroke="#000000" stroke-width="1.0"/>
<rect x="93.47" y="236.9" width="3.4" height="3.4" fill="#999999" stroke="#000000" stroke-width="1.0"/>
<rect x="100.38" y="227.5" width="3.4" height="3.4" fill="#999999" stroke="#000000" stroke-width="1.0"/>
<rect x="107.29" y="220.6" width="3.4" height="3.4" fill="#999999" stroke="#000000" stroke-width="1.0"/>
<rect x="114.2" y="217.2" width="3.4" height="3.4" fill="#999999" stroke="#000000" stroke-width="1.0"/>
<rect x="121.11" y="219.4" width="3.4" height="3.4" fill="#999999" stroke="#000000" stroke-width="1.0"/>
<rect x="128.02" y="226.8" width="3.4" height="3.4" fill="#999999" stroke="#000000" stroke-width="1.0"/>
<rect x="134.93" y="238.7" width="3.4" height="3.4" fill="#999999" stroke="#000000" stroke-width="1.0"/>
<rect x="141.83" y="252.2" width="3.4" height="3.4" fill="#999999" stroke="#000000" stroke-width="1.0"/>
<rect x="148.74" y="262.7" width="3.4" height="3.4" fill="#999999" stroke="#000000" stroke-width="1.0"/>
<rect x="155.65" y="267.2" width="3.4" height="3.4" fill="#999999" stroke="#000000" stroke-width="1.0"/>
<rect x="162.56" y="262.7" width="3.4" height="3.4" fill="#999999" stroke="#000000" stroke-width="1.0"/>
<rect x="169.47" y="252.2" width="3.4" height="3.4" fill="#999999" stroke="#000000" stroke-width="1.0"/>
<rect x="176.38" y="238.7" width="3.4" height="3.4" fill="#999999" stroke="#000000" stroke-width="1.0"/>
<rect x="183.28" y="226.8" width="3.4" height="3.4" fill="#999999" stroke="#000000" stroke-width="1.0"/>
<rect x="190.19" y="219.4" width="3.4" height="3.4" fill="#999999" stroke="#000000" stroke-width="1.0"/>
<rect x="197.1" y="217.2" width="3.4" height="3.4" fill="#999999" stroke="#000000" stroke-width="1.0"/>
<rect x="204.01" y="220.6" width="3.4" height="3.4" fill="#999999" stroke="#000000" stroke-width="1.0"/>
<rect x="210.92" y="227.5" width="3.4" height="3.4" fill="#999999" stroke="#000000" stroke-width="1.0"/>
<rect x="217.83" y="236.9" width="3.4" height="3.4" fill="#999999" stroke="#000000" stroke-width="1.0"/>
<rect x="224.73" y="245.9" width="3.4" height="3.4" fill="#999999" stroke="#000000" stroke-width="1.0"/>
<rect x="231.64" y="254.4" width="3.4" height="3.4" fill="#999999" stroke="#000000" stroke-width="1.0"/>
<rect x="238.55" y="259.7" width="3.4" height="3.4" fill="#999999" stroke="#000000" stroke-width="1.0"/>
<rect x="245.46" y="264.3" width="3.4" height="3.4" fill="#999999" stroke="#000000" stroke-width="1.0"/>
<rect x="252.37" y="270.3" width="3.4" height="3.4" fill="#999999" stroke="#000000" stroke-width="1.0"/>
<rect x="259.28" y="281.3" width="3.4" height="3.4" fill="#999999" stroke="#000000" stroke-width="1.0"/>
<rect x="266.18" y="292.8" width="3.4" height="3.4" fill="#999999" stroke="#000000" stroke-width="1.0"/>
<rect x="273.09" y="300.5" width="3.4" height="3.4" fill="#999999" stroke="#000000" stroke-width="1.0"/>
<rect x="280" y="302.1" width="3.4" height="3.4" fill="#999999" stroke="#000000" stroke-width="1.0"/>
<polyline points="33,316.2 39.91,314.5 46.82,308.8 53.73,301.5 60.63,295.7 67.54,290.9 74.45,285.3 81.36,279.2 88.27,271.8 95.17,263 102.08,253.2 108.99,245.4 115.9,241.3 122.81,243.1 129.72,250.5 136.62,261.2 143.53,273.7 150.44,284.8 157.35,289.1 164.26,284.8 171.17,273.7 178.07,261.2 184.98,250.5 191.89,243.1 198.8,241.3 205.71,245.4 212.62,253.2 219.53,263 226.43,271.8 233.34,279.2 240.25,285.3 247.16,290.9 254.07,295.7 260.98,301.5 267.88,308.8 274.79,314.5 281.7,316.2" fill="none" stroke="#ff0000" stroke-width="1.3"/>
<rect x="31.3" y="314.5" width="3.4" height="3.4" fill="#ff9999" stroke="#ff0000" stroke-width="1.0"/>
<rect x="38.21" y="312.8" width="3.4" height="3.4" fill="#ff9999" stroke="#ff0000" stroke-width="1.0"/>
<rect x="45.12" y="307.1" width="3.4" height="3.4" fill="#ff9999" stroke="#ff0000" stroke-width="1.0"/>
<rect x="52.02" y="299.8" width="3.4" height="3.4" fill="#ff9999" stroke="#ff0000" stroke-width="1.0"/>
<rect x="58.93" y="294" width="3.4" height="3.4" fill="#ff9999" stroke="#ff0000" stroke-width="1.0"/>
<rect x="65.84" y="289.2" width="3.4" height="3.4" fill="#ff9999" stroke="#ff0000" stroke-width="1.0"/>
<rect x="72.75" y="283.6" width="3.4" height="3.4" fill="#ff9999" stroke="#ff0000" stroke-width="1.0"/>
<rect x="79.66" y="277.5" width="3.4" height="3.4" fill="#ff9999" stroke="#ff0000" stroke-width="1.0"/>
<rect x="86.57" y="270.1" width="3.4" height="3.4" fill="#ff9999" stroke="#ff0000" stroke-width="1.0"/>
<rect x="93.47" y="261.3" width="3.4" height="3.4" fill="#ff9999" stroke="#ff0000" stroke-width="1.0"/>
<rect x="100.38" y="251.5" width="3.4" height="3.4" fill="#ff9999" stroke="#ff0000" stroke-width="1.0"/>
<rect x="107.29" y="243.7" width="3.4" height="3.4" fill="#ff9999" stroke="#ff0000" stroke-width="1.0"/>
<rect x="114.2" y="239.6" width="3.4" height="3.4" fill="#ff9999" stroke="#ff0000" stroke-width="1.0"/>
<rect x="121.11" y="241.4" width="3.4" height="3.4" fill="#ff9999" stroke="#ff0000" stroke-width="1.0"/>
<rect x="128.02" y="248.8" width="3.4" height="3.4" fill="#ff9999" stroke="#ff0000" stroke-width="1.0"/>
<rect x="134.93" y="259.5" width="3.4" height="3.4" fill="#ff9999" stroke="#ff0000" stroke-width="1.0"/>
<rect x="141.83" y="272" width="3.4" height="3.4" fill="#ff9999" stroke="#ff0000" stroke-width="1.0"/>
<rect x="148.74" y="283.1" width="3.4" height="3.4" fill="#ff9999" stroke="#ff0000" stroke-width="1.0"/>
<rect x="155.65" y="287.4" width="3.4" height="3.4" fill="#ff9999" stroke="#ff0000" stroke-width="1.0"/>
<rect x="162.56" y="283.1" width="3.4" height="3.4" fill="#ff9999" stroke="#ff0000" stroke-width="1.0"/>
<rect x="169.47" y="272" width="3.4" height="3.4" fill="#ff9999" stroke="#ff0000" stroke-width="1.0"/>
<rect x="176.38" y="259.5" width="3.4" height="3.4" fill="#ff9999" stroke="#ff0000" stroke-width="1.0"/>
<rect x="183.28" y="248.8" width="3.4" height="3.4" fill="#ff9999" stroke="#ff0000" stroke-width="1.0"/>
<rect x="190.19" y="241.4" width="3.4" height="3.4" fill="#ff9999" stroke="#ff0000" stroke-width="1.0"/>
<rect x="197.1" y="239.6" width="3.4" height="3.4" fill="#ff9999" stroke="#ff0000" stroke-width="1.0"/>
<rect x="204.01" y="243.7" width="3.4" height="3.4" fill="#ff9999" stroke="#ff0000" stroke-width="1.0"/>
<rect x="210.92" y="251.5" width="3.4" height="3.4" fill="#ff9999" stroke="#ff0000" stroke-width="1.0"/>
<rect x="217.83" y="261.3" width="3.4" height="3.4" fill="#ff9999" stroke="#ff0000" stroke-width="1.0"/>
<rect x="224.73" y="270.1" width="3.4" height="3.4" fill="#ff9999" stroke="#ff0000" stroke-width="1.0"/>
<rect x="231.64" y="277.5" width="3.4" height="3.4" fill="#ff9999" stroke="#ff0000" stroke-width="1.0"/>
<rect x="238.55" y="283.6" width="3.4" height="3.4" fill="#ff9999" stroke="#ff0000" stroke-width="1.0"/>
<rect x="245.46" y="289.2" width="3.4" height="3.4" fill="#ff9999" stroke="#ff0000" stroke-width="1.0"/>
<rect x="252.37" y="294" width="3.4" height="3.4" fill="#ff9999" stroke="#ff0000" stroke-width="1.0"/>
<rect x="259.28" y="299.8" width="3.4" height="3.4" fill="#ff9999" stroke="#ff0000" stroke-width="1.0"/>
<rect x="266.18" y="307.1" width="3.4" height="3.4" fill="#ff9999" stroke="#ff0000" stroke-width="1.0"/>
<rect x="273.09" y="312.8" width="3.4" height="3.4" fill="#ff9999" stroke="#ff0000" stroke-width="1.0"/>
<rect x="280" y="314.5" width="3.4" height="3.4" fill="#ff9999" stroke="#ff0000" stroke-width="1.0"/>
<polyline points="33,310.4 39.91,308.4 46.82,302.2 53.73,294.5 60.63,287.5 67.54,281.9 74.45,277 81.36,271.1 88.27,263.2 95.17,253.2 102.08,244.2 108.99,236.4 115.9,233 122.81,234.8 129.72,243.1 136.62,255.5 143.53,268.9 150.44,280.1 157.35,284.2 164.26,280.1 171.17,268.9 178.07,255.5 184.98,243.1 191.89,234.8 198.8,233 205.71,236.4 212.62,244.2 219.53,253.2 226.43,263.2 233.34,271.1 240.25,277 247.16,281.9 254.07,287.5 260.98,294.5 267.88,302.2 274.79,308.4 281.7,310.4" fill="none" stroke="#0000ff" stroke-width="1.3"/>
<rect x="31.3" y="308.7" width="3.4" height="3.4" fill="#9999ff" stroke="#0000ff" stroke-width="1.0"/>
<rect x="38.21" y="306.7" width="3.4" height="3.4" fill="#9999ff" stroke="#0000ff" stroke-width="1.0"/>
<rect x="45.12" y="300.5" width="3.4" height="3.4" fill="#9999ff" stroke="#0000ff" stroke-width="1.0"/>
<rect x="52.02" y="292.8" width="3.4" height="3.4" fill="#9999ff" stroke="#0000ff" stroke-width="1.0"/>
<rect x="58.93" y="285.8" width="3.4" height="3.4" fill="#9999ff" stroke="#0000ff" stroke-width="1.0"/>
<rect x="65.84" y="280.2" width="3.4" height="3.4" fill="#9999ff" stroke="#0000ff" stroke-width="1.0"/>
<rect x="72.75" y="275.3" width="3.4" height="3.4" fill="#9999ff" stroke="#0000ff" stroke-width="1.0"/>
<rect x="79.66" y="269.4" width="3.4" height="3.4" fill="#9999ff" stroke="#0000ff" stroke-width="1.0"/>
<rect x="86.57" y="261.5" width="3.4" height="3.4" fill="#9999ff" stroke="#0000ff" stroke-width="1.0"/>
<rect x="93.47" y="251.5" width="3.4" height="3.4" fill="#9999ff" stroke="#0000ff" stroke-width="1.0"/>
<rect x="100.38" y="242.5" width="3.4" height="3.4" fill="#9999ff" stroke="#0000ff" stroke-width="1.0"/>
<rect x="107.29" y="234.7" width="3.4" height="3.4" fill="#9999ff" stroke="#0000ff" stroke-width="1.0"/>
<rect x="114.2" y="231.3" width="3.4" height="3.4" fill="#9999ff" stroke="#0000ff" stroke-width="1.0"/>
<rect x="121.11" y="233.1" width="3.4" height="3.4" fill="#9999ff" stroke="#0000ff" stroke-width="1.0"/>
<rect x="128.02" y="241.4" width="3.4" height="3.4" fill="#9999ff" stroke="#0000ff" stroke-width="1.0"/>
<rect x="134.93" y="253.8" width="3.4" height="3.4" fill="#9999ff" stroke="#0000ff" stroke-width="1.0"/>
<rect x="141.83" y="267.2" width="3.4" height="3.4" fill="#9999ff" stroke="#0000ff" stroke-width="1.0"/>
<rect x="148.74" y="278.4" width="3.4" height="3.4" fill="#9999ff" stroke="#0000ff" stroke-width="1.0"/>
<rect x="155.65" y="282.5" width="3.4" height="3.4" fill="#9999ff" stroke="#0000ff" stroke-width="1.0"/>
<rect x="162.56" y="278.4" width="3.4" height="3.4" fill="#9999ff" stroke="#0000ff" stroke-width="1.0"/>
<rect x="169.47" y="267.2" width="3.4" height="3.4" fill="#9999ff" stroke="#0000ff" stroke-width="1.0"/>
<rect x="176.38" y="253.8" width="3.4" height="3.4" fill="#9999ff" stroke="#0000ff" stroke-width="1.0"/>
<rect x="183.28" y="241.4" width="3.4" height="3.4" fill="#9999ff" stroke="#0000ff" stroke-width="1.0"/>
<rect x="190.19" y="233.1" width="3.4" height="3.4" fill="#9999ff" stroke="#0000ff" stroke-width="1.0"/>
<rect x="197.1" y="231.3" width="3.4" height="3.4" fill="#9999ff" stroke="#0000ff" stroke-width="1.0"/>
<rect x="204.01" y="234.7" width="3.4" height="3.4" fill="#9999ff" stroke="#0000ff" stroke-width="1.0"/>
<rect x="210.92" y="242.5" width="3.4" height="3.4" fill="#9999ff" stroke="#0000ff" stroke-width="1.0"/>
<rect x="217.83" y="251.5" width="3.4" height="3.4" fill="#9999ff" stroke="#0000ff" stroke-width="1.0"/>
<rect x="224.73" y="261.5" width="3.4" height="3.4" fill="#9999ff" stroke="#0000ff" stroke-width="1.0"/>
<rect x="231.64" y="269.4" width="3.4" height="3.4" fill="#9999ff" stroke="#0000ff" stroke-width="1.0"/>
<rect x="238.55" y="275.3" width="3.4" height="3.4" fill="#9999ff" stroke="#0000ff" stroke-width="1.0"/>
<rect x="245.46" y="280.2" width="3.4" height="3.4" fill="#9999ff" stroke="#0000ff" stroke-width="1.0"/>
<rect x="252.37" y="285.8" width="3.4" height="3.4" fill="#9999ff" stroke="#0000ff" stroke-width="1.0"/>
<rect x="259.28" y="292.8" width="3.4" height="3.4" fill="#9999ff" stroke="#0000ff" stroke-width="1.0"/>
<rect x="266.18" y="300.5" width="3.4" height="3.4" fill="#9999ff" stroke="#0000ff" stroke-width="1.0"/>
<rect x="273.09" y="306.7" width="3.4" height="3.4" fill="#9999ff" stroke="#0000ff" stroke-width="1.0"/>
<rect x="280" y="308.7" width="3.4" height="3.4" fill="#9999ff" stroke="#0000ff" stroke-width="1.0"/>
<polyline points="33,326.4 39.91,325 46.82,319.8 53.73,314.2 60.63,309 67.54,304.3 74.45,299.2 81.36,293.3 88.27,285.3 95.17,275.2 102.08,265.1 108.99,257.3 115.9,253.7 122.81,255.5 129.72,262.9 136.62,274.8 143.53,288.2 150.44,299.2 157.35,302.8 164.26,299.2 171.17,288.2 178.07,274.8 184.98,262.9 191.89,255.5 198.8,253.7 205.71,257.3 212.62,265.1 219.53,275.2 226.43,285.3 233.34,293.3 240.25,299.2 247.16,304.3 254.07,309 260.98,314.2 267.88,319.8 274.79,325 281.7,326.4" fill="none" stroke="#ff00ff" stroke-width="1.3"/>
<rect x="31.3" y="324.7" width="3.4" height="3.4" fill="#ff99ff" stroke="#ff00ff" stroke-width="1.0"/>
<rect x="38.21" y="323.3" width="3.4" height="3.4" fill="#ff99ff" stroke="#ff00ff" stroke-width="1.0"/>
<rect x="45.12" y="318.1" width="3.4" height="3.4" fill="#ff99ff" stroke="#ff00ff" stroke-width="1.0"/>
<rect x="52.02" y="312.5" width="3.4" height="3.4" fill="#ff99ff" stroke="#ff00ff" stroke-width="1.0"/>
<rect x="58.93" y="307.3" width="3.4" height="3.4" fill="#ff99ff" stroke="#ff00ff" stroke-width="1.0"/>
<rect x="65.84" y="302.6" width="3.4" height="3.4" fill="#ff99ff" stroke="#ff00ff" stroke-width="1.0"/>
<rect x="72.75" y="297.5" width="3.4" height="3.4" fill="#ff99ff" stroke="#ff00ff" stroke-width="1.0"/>
<rect x="79.66" y="291.6" width="3.4" height="3.4" fill="#ff99ff" stroke="#ff00ff" stroke-width="1.0"/>
<rect x="86.57" y="283.6" width="3.4" height="3.4" fill="#ff99ff" stroke="#ff00ff" stroke-width="1.0"/>
<rect x="93.47" y="273.5" width="3.4" height="3.4" fill="#ff99ff" stroke="#ff00ff" stroke-width="1.0"/>
<rect x="100.38" y="263.4" width="3.4" height="3.4" fill="#ff99ff" stroke="#ff00ff" stroke-width="1.0"/>
<rect x="107.29" y="255.6" width="3.4" height="3.4" fill="#ff99ff" stroke="#ff00ff" stroke-width="1.0"/>
<rect x="114.2" y="252" width="3.4" height="3.4" fill="#ff99ff" stroke="#ff00ff" stroke-width="1.0"/>
<rect x="121.11" y="253.8" width="3.4" height="3.4" fill="#ff99ff" stroke="#ff00ff" stroke-width="1.0"/>
<rect x="128.02" y="261.2" width="3.4" height="3.4" fill="#ff99ff" stroke="#ff00ff" stroke-width="1.0"/>
<rect x="134.93" y="273.1" width="3.4" height="3.4" fill="#ff99ff" stroke="#ff00ff" stroke-width="1.0"/>
<rect x="141.83" y="286.5" width="3.4" height="3.4" fill="#ff99ff" stroke="#ff00ff" stroke-width="1.0"/>
<rect x="148.74" y="297.5" width="3.4" height="3.4" fill="#ff99ff" stroke="#ff00ff" stroke-width="1.0"/>
<rect x="155.65" y="301.1" width="3.4" height="3.4" fill="#ff99ff" stroke="#ff00ff" stroke-width="1.0"/>
<rect x="162.56" y="297.5" width="3.4" height="3.4" fill="#ff99ff" stroke="#ff00ff" stroke-width="1.0"/>
<rect x="169.47" y="286.5" width="3.4" height="3.4" fill="#ff99ff" stroke="#ff00ff" stroke-width="1.0"/>
<rect x="176.38" y="273.1" width="3.4" height="3.4" fill="#ff99ff" stroke="#ff00ff" stroke-width="1.0"/>
<rect x="183.28" y="261.2" width="3.4" height="3.4" fill="#ff99ff" stroke="#ff00ff" stroke-width="1.0"/>
<rect x="190.19" y="253.8" width="3.4" height="3.4" fill="#ff99ff" stroke="#ff00ff" stroke-width="1.0"/>
<rect x="197.1" y="252" width="3.4" height="3.4" fill="#ff99ff" stroke="#ff00ff" stroke-width="1.0"/>
<rect x="204.01" y="255.6" width="3.4" height="3.4" fill="#ff99ff" stroke="#ff00ff" stroke-width="1.0"/>
<rect x="210.92" y="263.4" width="3.4" height="3.4" fill="#ff99ff" stroke="#ff00ff" stroke-width="1.0"/>
<rect x="217.83" y="273.5" width="3.4" height="3.4" fill="#ff99ff" stroke="#ff00ff" stroke-width="1.0"/>
<rect x="224.73" y="283.6" width="3.4" height="3.4" fill="#ff99ff" stroke="#ff00ff" stroke-width="1.0"/>
<rect x="231.64" y="291.6" width="3.4" height="3.4" fill="#ff99ff" stroke="#ff00ff" stroke-width="1.0"/>
<rect x="238.55" y="297.5" width="3.4" height="3.4" fill="#ff99ff" stroke="#ff00ff" stroke-width="1.0"/>
<rect x="245.46" y="302.6" width="3.4" height="3.4" fill="#ff99ff" stroke="#ff00ff" stroke-width="1.0"/>
<rect x="252.37" y="307.3" width="3.4" height="3.4" fill="#ff99ff" stroke="#ff00ff" stroke-width="1.0"/>
<rect x="259.28" y="312.5" width="3.4" height="3.4" fill="#ff99ff" stroke="#ff00ff" stroke-width="1.0"/>
<rect x="266.18" y="318.1" width="3.4" height="3.4" fill="#ff99ff" stroke="#ff00ff" stroke-width="1.0"/>
<rect x="273.09" y="323.3" width="3.4" height="3.4" fill="#ff99ff" stroke="#ff00ff" stroke-width="1.0"/>
<rect x="280" y="324.7" width="3.4" height="3.4" fill="#ff99ff" stroke="#ff00ff" stroke-width="1.0"/>
</g>
<path d="M33 333.9v-2.6 M33 198.6v2.6 M53.73 333.9v-1.4 M53.73 198.6v1.4 M74.45 333.9v-2.6 M74.45 198.6v2.6 M95.17 333.9v-1.4 M95.17 198.6v1.4 M115.9 333.9v-2.6 M115.9 198.6v2.6 M136.62 333.9v-1.4 M136.62 198.6v1.4 M157.35 333.9v-2.6 M157.35 198.6v2.6 M178.07 333.9v-1.4 M178.07 198.6v1.4 M198.8 333.9v-2.6 M198.8 198.6v2.6 M219.53 333.9v-1.4 M219.53 198.6v1.4 M240.25 333.9v-2.6 M240.25 198.6v2.6 M260.98 333.9v-1.4 M260.98 198.6v1.4 M281.7 333.9v-2.6 M281.7 198.6v2.6 M33 333.9h1.4 M281.7 333.9h-1.4 M33 323.49h2.6 M281.7 323.49h-2.6 M33 313.08h1.4 M281.7 313.08h-1.4 M33 302.68h2.6 M281.7 302.68h-2.6 M33 292.27h1.4 M281.7 292.27h-1.4 M33 281.86h2.6 M281.7 281.86h-2.6 M33 271.45h1.4 M281.7 271.45h-1.4 M33 261.05h2.6 M281.7 261.05h-2.6 M33 250.64h1.4 M281.7 250.64h-1.4 M33 240.23h2.6 M281.7 240.23h-2.6 M33 229.82h1.4 M281.7 229.82h-1.4 M33 219.42h2.6 M281.7 219.42h-2.6 M33 209.01h1.4 M281.7 209.01h-1.4 M33 198.6h2.6 M281.7 198.6h-2.6" stroke="#000" stroke-width="1" fill="none"/>
<rect x="33" y="198.6" width="248.7" height="135.3" fill="none" stroke="#000" stroke-width="1.35"/>
<text transform="translate(33 344.1) scale(1.12 1)" class="tk" text-anchor="middle">0</text>
<text transform="translate(74.45 344.1) scale(1.12 1)" class="tk" text-anchor="middle">30</text>
<text transform="translate(115.9 344.1) scale(1.12 1)" class="tk" text-anchor="middle">60</text>
<text transform="translate(157.35 344.1) scale(1.12 1)" class="tk" text-anchor="middle">90</text>
<text transform="translate(198.8 344.1) scale(1.12 1)" class="tk" text-anchor="middle">120</text>
<text transform="translate(240.25 344.1) scale(1.12 1)" class="tk" text-anchor="middle">150</text>
<text transform="translate(281.7 344.1) scale(1.12 1)" class="tk" text-anchor="middle">180</text>
<text transform="translate(29 325.89) scale(1.12 1)" class="tk" text-anchor="end">2.4</text>
<text transform="translate(29 305.08) scale(1.12 1)" class="tk" text-anchor="end">2.5</text>
<text transform="translate(29 284.26) scale(1.12 1)" class="tk" text-anchor="end">2.6</text>
<text transform="translate(29 263.45) scale(1.12 1)" class="tk" text-anchor="end">2.7</text>
<text transform="translate(29 242.63) scale(1.12 1)" class="tk" text-anchor="end">2.8</text>
<text transform="translate(29 221.82) scale(1.12 1)" class="tk" text-anchor="end">2.9</text>
<text transform="translate(29 201) scale(1.12 1)" class="tk" text-anchor="end">3.0</text>
<text x="128.25" y="355.7" class="ti">Fiber angle,</text>
<text transform="translate(181.65 355.7) scale(1.2 1)" class="al">&#945;</text>
<circle cx="189.85" cy="350.7" r="1.0" fill="none" stroke="#000" stroke-width="0.55"/>
<text transform="translate(12.7 266.35) rotate(-90)" class="ti" text-anchor="middle">Frequency parameters,<tspan dx="3.9">&#937;</tspan></text>
<text x="-0.4" y="195.2" class="lab">(c)</text>
<rect x="140.5" y="203.4" width="38.5" height="43.4" fill="#000"/>
<rect x="138" y="200.9" width="38.5" height="43.4" fill="#fff" stroke="#888" stroke-width="0.5"/>
<line x1="139" y1="207.3" x2="158.5" y2="207.3" stroke="#000000" stroke-width="1.3"/>
<rect x="146.8" y="205.6" width="3.4" height="3.4" fill="#999999" stroke="#000000" stroke-width="1.0"/>
<text transform="translate(160.8 210.3) scale(0.935 1)" class="lg">C-C</text>
<line x1="139" y1="217.9" x2="158.5" y2="217.9" stroke="#ff0000" stroke-width="1.3"/>
<rect x="146.8" y="216.2" width="3.4" height="3.4" fill="#ff9999" stroke="#ff0000" stroke-width="1.0"/>
<text transform="translate(160.8 220.9) scale(0.935 1)" class="lg">C-S</text>
<line x1="139" y1="228.5" x2="158.5" y2="228.5" stroke="#0000ff" stroke-width="1.3"/>
<rect x="146.8" y="226.8" width="3.4" height="3.4" fill="#9999ff" stroke="#0000ff" stroke-width="1.0"/>
<text transform="translate(160.8 231.5) scale(0.935 1)" class="lg">S-C</text>
<line x1="139" y1="239.1" x2="158.5" y2="239.1" stroke="#ff00ff" stroke-width="1.3"/>
<rect x="146.8" y="237.4" width="3.4" height="3.4" fill="#ff99ff" stroke="#ff00ff" stroke-width="1.0"/>
<text transform="translate(160.8 242.1) scale(0.935 1)" class="lg">S-S</text></g>
<g><clipPath id="c3"><rect x="344.6" y="200.4" width="248.5" height="135"/></clipPath><g clip-path="url(#c3)">
<polyline points="344.6,318.7 351.5,317.9 358.41,317 365.31,314.4 372.21,308.3 379.11,295.6 386.02,277.6 392.92,255 399.82,228.5 406.73,224.7 413.63,220.7 420.53,217.3 427.43,215.5 434.34,215.5 441.24,217.8 448.14,222.3 455.04,227.9 461.95,233 468.85,234.6 475.75,233 482.66,227.9 489.56,222.3 496.46,217.8 503.36,215.5 510.27,215.5 517.17,217.3 524.07,220.7 530.98,224.7 537.88,228.5 544.78,255 551.68,277.6 558.59,295.6 565.49,308.3 572.39,314.4 579.29,317 586.2,317.9 593.1,318.7" fill="none" stroke="#000000" stroke-width="1.3"/>
<rect x="342.9" y="317" width="3.4" height="3.4" fill="#999999" stroke="#000000" stroke-width="1.0"/>
<rect x="349.8" y="316.2" width="3.4" height="3.4" fill="#999999" stroke="#000000" stroke-width="1.0"/>
<rect x="356.71" y="315.3" width="3.4" height="3.4" fill="#999999" stroke="#000000" stroke-width="1.0"/>
<rect x="363.61" y="312.7" width="3.4" height="3.4" fill="#999999" stroke="#000000" stroke-width="1.0"/>
<rect x="370.51" y="306.6" width="3.4" height="3.4" fill="#999999" stroke="#000000" stroke-width="1.0"/>
<rect x="377.41" y="293.9" width="3.4" height="3.4" fill="#999999" stroke="#000000" stroke-width="1.0"/>
<rect x="384.32" y="275.9" width="3.4" height="3.4" fill="#999999" stroke="#000000" stroke-width="1.0"/>
<rect x="391.22" y="253.3" width="3.4" height="3.4" fill="#999999" stroke="#000000" stroke-width="1.0"/>
<rect x="398.12" y="226.8" width="3.4" height="3.4" fill="#999999" stroke="#000000" stroke-width="1.0"/>
<rect x="405.03" y="223" width="3.4" height="3.4" fill="#999999" stroke="#000000" stroke-width="1.0"/>
<rect x="411.93" y="219" width="3.4" height="3.4" fill="#999999" stroke="#000000" stroke-width="1.0"/>
<rect x="418.83" y="215.6" width="3.4" height="3.4" fill="#999999" stroke="#000000" stroke-width="1.0"/>
<rect x="425.73" y="213.8" width="3.4" height="3.4" fill="#999999" stroke="#000000" stroke-width="1.0"/>
<rect x="432.64" y="213.8" width="3.4" height="3.4" fill="#999999" stroke="#000000" stroke-width="1.0"/>
<rect x="439.54" y="216.1" width="3.4" height="3.4" fill="#999999" stroke="#000000" stroke-width="1.0"/>
<rect x="446.44" y="220.6" width="3.4" height="3.4" fill="#999999" stroke="#000000" stroke-width="1.0"/>
<rect x="453.34" y="226.2" width="3.4" height="3.4" fill="#999999" stroke="#000000" stroke-width="1.0"/>
<rect x="460.25" y="231.3" width="3.4" height="3.4" fill="#999999" stroke="#000000" stroke-width="1.0"/>
<rect x="467.15" y="232.9" width="3.4" height="3.4" fill="#999999" stroke="#000000" stroke-width="1.0"/>
<rect x="474.05" y="231.3" width="3.4" height="3.4" fill="#999999" stroke="#000000" stroke-width="1.0"/>
<rect x="480.96" y="226.2" width="3.4" height="3.4" fill="#999999" stroke="#000000" stroke-width="1.0"/>
<rect x="487.86" y="220.6" width="3.4" height="3.4" fill="#999999" stroke="#000000" stroke-width="1.0"/>
<rect x="494.76" y="216.1" width="3.4" height="3.4" fill="#999999" stroke="#000000" stroke-width="1.0"/>
<rect x="501.66" y="213.8" width="3.4" height="3.4" fill="#999999" stroke="#000000" stroke-width="1.0"/>
<rect x="508.57" y="213.8" width="3.4" height="3.4" fill="#999999" stroke="#000000" stroke-width="1.0"/>
<rect x="515.47" y="215.6" width="3.4" height="3.4" fill="#999999" stroke="#000000" stroke-width="1.0"/>
<rect x="522.37" y="219" width="3.4" height="3.4" fill="#999999" stroke="#000000" stroke-width="1.0"/>
<rect x="529.27" y="223" width="3.4" height="3.4" fill="#999999" stroke="#000000" stroke-width="1.0"/>
<rect x="536.18" y="226.8" width="3.4" height="3.4" fill="#999999" stroke="#000000" stroke-width="1.0"/>
<rect x="543.08" y="253.3" width="3.4" height="3.4" fill="#999999" stroke="#000000" stroke-width="1.0"/>
<rect x="549.98" y="275.9" width="3.4" height="3.4" fill="#999999" stroke="#000000" stroke-width="1.0"/>
<rect x="556.89" y="293.9" width="3.4" height="3.4" fill="#999999" stroke="#000000" stroke-width="1.0"/>
<rect x="563.79" y="306.6" width="3.4" height="3.4" fill="#999999" stroke="#000000" stroke-width="1.0"/>
<rect x="570.69" y="312.7" width="3.4" height="3.4" fill="#999999" stroke="#000000" stroke-width="1.0"/>
<rect x="577.59" y="315.3" width="3.4" height="3.4" fill="#999999" stroke="#000000" stroke-width="1.0"/>
<rect x="584.5" y="316.2" width="3.4" height="3.4" fill="#999999" stroke="#000000" stroke-width="1.0"/>
<rect x="591.4" y="317" width="3.4" height="3.4" fill="#999999" stroke="#000000" stroke-width="1.0"/>
<polyline points="344.6,326.7 351.5,326 358.41,324 365.31,319 372.21,310 379.11,296 386.02,277.6 392.92,255 399.82,239.1 406.73,234.6 413.63,230.6 420.53,227.2 427.43,225 434.34,225 441.24,226.8 448.14,231.3 455.04,236.9 461.95,242 468.85,243.6 475.75,242 482.66,236.9 489.56,231.3 496.46,226.8 503.36,225 510.27,225 517.17,227.2 524.07,230.6 530.98,234.6 537.88,239.1 544.78,255 551.68,277.6 558.59,296 565.49,310 572.39,319 579.29,324 586.2,326 593.1,326.7" fill="none" stroke="#ff0000" stroke-width="1.3"/>
<rect x="342.9" y="325" width="3.4" height="3.4" fill="#ff9999" stroke="#ff0000" stroke-width="1.0"/>
<rect x="349.8" y="324.3" width="3.4" height="3.4" fill="#ff9999" stroke="#ff0000" stroke-width="1.0"/>
<rect x="356.71" y="322.3" width="3.4" height="3.4" fill="#ff9999" stroke="#ff0000" stroke-width="1.0"/>
<rect x="363.61" y="317.3" width="3.4" height="3.4" fill="#ff9999" stroke="#ff0000" stroke-width="1.0"/>
<rect x="370.51" y="308.3" width="3.4" height="3.4" fill="#ff9999" stroke="#ff0000" stroke-width="1.0"/>
<rect x="377.41" y="294.3" width="3.4" height="3.4" fill="#ff9999" stroke="#ff0000" stroke-width="1.0"/>
<rect x="384.32" y="275.9" width="3.4" height="3.4" fill="#ff9999" stroke="#ff0000" stroke-width="1.0"/>
<rect x="391.22" y="253.3" width="3.4" height="3.4" fill="#ff9999" stroke="#ff0000" stroke-width="1.0"/>
<rect x="398.12" y="237.4" width="3.4" height="3.4" fill="#ff9999" stroke="#ff0000" stroke-width="1.0"/>
<rect x="405.03" y="232.9" width="3.4" height="3.4" fill="#ff9999" stroke="#ff0000" stroke-width="1.0"/>
<rect x="411.93" y="228.9" width="3.4" height="3.4" fill="#ff9999" stroke="#ff0000" stroke-width="1.0"/>
<rect x="418.83" y="225.5" width="3.4" height="3.4" fill="#ff9999" stroke="#ff0000" stroke-width="1.0"/>
<rect x="425.73" y="223.3" width="3.4" height="3.4" fill="#ff9999" stroke="#ff0000" stroke-width="1.0"/>
<rect x="432.64" y="223.3" width="3.4" height="3.4" fill="#ff9999" stroke="#ff0000" stroke-width="1.0"/>
<rect x="439.54" y="225.1" width="3.4" height="3.4" fill="#ff9999" stroke="#ff0000" stroke-width="1.0"/>
<rect x="446.44" y="229.6" width="3.4" height="3.4" fill="#ff9999" stroke="#ff0000" stroke-width="1.0"/>
<rect x="453.34" y="235.2" width="3.4" height="3.4" fill="#ff9999" stroke="#ff0000" stroke-width="1.0"/>
<rect x="460.25" y="240.3" width="3.4" height="3.4" fill="#ff9999" stroke="#ff0000" stroke-width="1.0"/>
<rect x="467.15" y="241.9" width="3.4" height="3.4" fill="#ff9999" stroke="#ff0000" stroke-width="1.0"/>
<rect x="474.05" y="240.3" width="3.4" height="3.4" fill="#ff9999" stroke="#ff0000" stroke-width="1.0"/>
<rect x="480.96" y="235.2" width="3.4" height="3.4" fill="#ff9999" stroke="#ff0000" stroke-width="1.0"/>
<rect x="487.86" y="229.6" width="3.4" height="3.4" fill="#ff9999" stroke="#ff0000" stroke-width="1.0"/>
<rect x="494.76" y="225.1" width="3.4" height="3.4" fill="#ff9999" stroke="#ff0000" stroke-width="1.0"/>
<rect x="501.66" y="223.3" width="3.4" height="3.4" fill="#ff9999" stroke="#ff0000" stroke-width="1.0"/>
<rect x="508.57" y="223.3" width="3.4" height="3.4" fill="#ff9999" stroke="#ff0000" stroke-width="1.0"/>
<rect x="515.47" y="225.5" width="3.4" height="3.4" fill="#ff9999" stroke="#ff0000" stroke-width="1.0"/>
<rect x="522.37" y="228.9" width="3.4" height="3.4" fill="#ff9999" stroke="#ff0000" stroke-width="1.0"/>
<rect x="529.27" y="232.9" width="3.4" height="3.4" fill="#ff9999" stroke="#ff0000" stroke-width="1.0"/>
<rect x="536.18" y="237.4" width="3.4" height="3.4" fill="#ff9999" stroke="#ff0000" stroke-width="1.0"/>
<rect x="543.08" y="253.3" width="3.4" height="3.4" fill="#ff9999" stroke="#ff0000" stroke-width="1.0"/>
<rect x="549.98" y="275.9" width="3.4" height="3.4" fill="#ff9999" stroke="#ff0000" stroke-width="1.0"/>
<rect x="556.89" y="294.3" width="3.4" height="3.4" fill="#ff9999" stroke="#ff0000" stroke-width="1.0"/>
<rect x="563.79" y="308.3" width="3.4" height="3.4" fill="#ff9999" stroke="#ff0000" stroke-width="1.0"/>
<rect x="570.69" y="317.3" width="3.4" height="3.4" fill="#ff9999" stroke="#ff0000" stroke-width="1.0"/>
<rect x="577.59" y="322.3" width="3.4" height="3.4" fill="#ff9999" stroke="#ff0000" stroke-width="1.0"/>
<rect x="584.5" y="324.3" width="3.4" height="3.4" fill="#ff9999" stroke="#ff0000" stroke-width="1.0"/>
<rect x="591.4" y="325" width="3.4" height="3.4" fill="#ff9999" stroke="#ff0000" stroke-width="1.0"/>
<polyline points="344.6,325.6 351.5,325.1 358.41,322.5 365.31,317.9 372.21,309.4 379.11,296 386.02,277.6 392.92,255 399.82,237.5 406.73,233 413.63,229 420.53,225.6 427.43,223.4 434.34,223.4 441.24,225.2 448.14,229.7 455.04,235.3 461.95,240.4 468.85,242 475.75,240.4 482.66,235.3 489.56,229.7 496.46,225.2 503.36,223.4 510.27,223.4 517.17,225.6 524.07,229 530.98,233 537.88,237.5 544.78,255 551.68,277.6 558.59,296 565.49,309.4 572.39,317.9 579.29,322.5 586.2,325.1 593.1,325.6" fill="none" stroke="#0000ff" stroke-width="1.3"/>
<rect x="342.9" y="323.9" width="3.4" height="3.4" fill="#9999ff" stroke="#0000ff" stroke-width="1.0"/>
<rect x="349.8" y="323.4" width="3.4" height="3.4" fill="#9999ff" stroke="#0000ff" stroke-width="1.0"/>
<rect x="356.71" y="320.8" width="3.4" height="3.4" fill="#9999ff" stroke="#0000ff" stroke-width="1.0"/>
<rect x="363.61" y="316.2" width="3.4" height="3.4" fill="#9999ff" stroke="#0000ff" stroke-width="1.0"/>
<rect x="370.51" y="307.7" width="3.4" height="3.4" fill="#9999ff" stroke="#0000ff" stroke-width="1.0"/>
<rect x="377.41" y="294.3" width="3.4" height="3.4" fill="#9999ff" stroke="#0000ff" stroke-width="1.0"/>
<rect x="384.32" y="275.9" width="3.4" height="3.4" fill="#9999ff" stroke="#0000ff" stroke-width="1.0"/>
<rect x="391.22" y="253.3" width="3.4" height="3.4" fill="#9999ff" stroke="#0000ff" stroke-width="1.0"/>
<rect x="398.12" y="235.8" width="3.4" height="3.4" fill="#9999ff" stroke="#0000ff" stroke-width="1.0"/>
<rect x="405.03" y="231.3" width="3.4" height="3.4" fill="#9999ff" stroke="#0000ff" stroke-width="1.0"/>
<rect x="411.93" y="227.3" width="3.4" height="3.4" fill="#9999ff" stroke="#0000ff" stroke-width="1.0"/>
<rect x="418.83" y="223.9" width="3.4" height="3.4" fill="#9999ff" stroke="#0000ff" stroke-width="1.0"/>
<rect x="425.73" y="221.7" width="3.4" height="3.4" fill="#9999ff" stroke="#0000ff" stroke-width="1.0"/>
<rect x="432.64" y="221.7" width="3.4" height="3.4" fill="#9999ff" stroke="#0000ff" stroke-width="1.0"/>
<rect x="439.54" y="223.5" width="3.4" height="3.4" fill="#9999ff" stroke="#0000ff" stroke-width="1.0"/>
<rect x="446.44" y="228" width="3.4" height="3.4" fill="#9999ff" stroke="#0000ff" stroke-width="1.0"/>
<rect x="453.34" y="233.6" width="3.4" height="3.4" fill="#9999ff" stroke="#0000ff" stroke-width="1.0"/>
<rect x="460.25" y="238.7" width="3.4" height="3.4" fill="#9999ff" stroke="#0000ff" stroke-width="1.0"/>
<rect x="467.15" y="240.3" width="3.4" height="3.4" fill="#9999ff" stroke="#0000ff" stroke-width="1.0"/>
<rect x="474.05" y="238.7" width="3.4" height="3.4" fill="#9999ff" stroke="#0000ff" stroke-width="1.0"/>
<rect x="480.96" y="233.6" width="3.4" height="3.4" fill="#9999ff" stroke="#0000ff" stroke-width="1.0"/>
<rect x="487.86" y="228" width="3.4" height="3.4" fill="#9999ff" stroke="#0000ff" stroke-width="1.0"/>
<rect x="494.76" y="223.5" width="3.4" height="3.4" fill="#9999ff" stroke="#0000ff" stroke-width="1.0"/>
<rect x="501.66" y="221.7" width="3.4" height="3.4" fill="#9999ff" stroke="#0000ff" stroke-width="1.0"/>
<rect x="508.57" y="221.7" width="3.4" height="3.4" fill="#9999ff" stroke="#0000ff" stroke-width="1.0"/>
<rect x="515.47" y="223.9" width="3.4" height="3.4" fill="#9999ff" stroke="#0000ff" stroke-width="1.0"/>
<rect x="522.37" y="227.3" width="3.4" height="3.4" fill="#9999ff" stroke="#0000ff" stroke-width="1.0"/>
<rect x="529.27" y="231.3" width="3.4" height="3.4" fill="#9999ff" stroke="#0000ff" stroke-width="1.0"/>
<rect x="536.18" y="235.8" width="3.4" height="3.4" fill="#9999ff" stroke="#0000ff" stroke-width="1.0"/>
<rect x="543.08" y="253.3" width="3.4" height="3.4" fill="#9999ff" stroke="#0000ff" stroke-width="1.0"/>
<rect x="549.98" y="275.9" width="3.4" height="3.4" fill="#9999ff" stroke="#0000ff" stroke-width="1.0"/>
<rect x="556.89" y="294.3" width="3.4" height="3.4" fill="#9999ff" stroke="#0000ff" stroke-width="1.0"/>
<rect x="563.79" y="307.7" width="3.4" height="3.4" fill="#9999ff" stroke="#0000ff" stroke-width="1.0"/>
<rect x="570.69" y="316.2" width="3.4" height="3.4" fill="#9999ff" stroke="#0000ff" stroke-width="1.0"/>
<rect x="577.59" y="320.8" width="3.4" height="3.4" fill="#9999ff" stroke="#0000ff" stroke-width="1.0"/>
<rect x="584.5" y="323.4" width="3.4" height="3.4" fill="#9999ff" stroke="#0000ff" stroke-width="1.0"/>
<rect x="591.4" y="323.9" width="3.4" height="3.4" fill="#9999ff" stroke="#0000ff" stroke-width="1.0"/>
<polyline points="344.6,330.2 351.5,329 358.41,325.6 365.31,320.2 372.21,310.3 379.11,296 386.02,277.6 392.92,255 399.82,248.3 406.73,244.2 413.63,239.8 420.53,236 427.43,233.5 434.34,233.5 441.24,235.3 448.14,240.2 455.04,245.8 461.95,251 468.85,252.5 475.75,251 482.66,245.8 489.56,240.2 496.46,235.3 503.36,233.5 510.27,233.5 517.17,236 524.07,239.8 530.98,244.2 537.88,248.3 544.78,255 551.68,277.6 558.59,296 565.49,310.3 572.39,320.2 579.29,325.6 586.2,329 593.1,330.2" fill="none" stroke="#ff00ff" stroke-width="1.3"/>
<rect x="342.9" y="328.5" width="3.4" height="3.4" fill="#ff99ff" stroke="#ff00ff" stroke-width="1.0"/>
<rect x="349.8" y="327.3" width="3.4" height="3.4" fill="#ff99ff" stroke="#ff00ff" stroke-width="1.0"/>
<rect x="356.71" y="323.9" width="3.4" height="3.4" fill="#ff99ff" stroke="#ff00ff" stroke-width="1.0"/>
<rect x="363.61" y="318.5" width="3.4" height="3.4" fill="#ff99ff" stroke="#ff00ff" stroke-width="1.0"/>
<rect x="370.51" y="308.6" width="3.4" height="3.4" fill="#ff99ff" stroke="#ff00ff" stroke-width="1.0"/>
<rect x="377.41" y="294.3" width="3.4" height="3.4" fill="#ff99ff" stroke="#ff00ff" stroke-width="1.0"/>
<rect x="384.32" y="275.9" width="3.4" height="3.4" fill="#ff99ff" stroke="#ff00ff" stroke-width="1.0"/>
<rect x="391.22" y="253.3" width="3.4" height="3.4" fill="#ff99ff" stroke="#ff00ff" stroke-width="1.0"/>
<rect x="398.12" y="246.6" width="3.4" height="3.4" fill="#ff99ff" stroke="#ff00ff" stroke-width="1.0"/>
<rect x="405.03" y="242.5" width="3.4" height="3.4" fill="#ff99ff" stroke="#ff00ff" stroke-width="1.0"/>
<rect x="411.93" y="238.1" width="3.4" height="3.4" fill="#ff99ff" stroke="#ff00ff" stroke-width="1.0"/>
<rect x="418.83" y="234.3" width="3.4" height="3.4" fill="#ff99ff" stroke="#ff00ff" stroke-width="1.0"/>
<rect x="425.73" y="231.8" width="3.4" height="3.4" fill="#ff99ff" stroke="#ff00ff" stroke-width="1.0"/>
<rect x="432.64" y="231.8" width="3.4" height="3.4" fill="#ff99ff" stroke="#ff00ff" stroke-width="1.0"/>
<rect x="439.54" y="233.6" width="3.4" height="3.4" fill="#ff99ff" stroke="#ff00ff" stroke-width="1.0"/>
<rect x="446.44" y="238.5" width="3.4" height="3.4" fill="#ff99ff" stroke="#ff00ff" stroke-width="1.0"/>
<rect x="453.34" y="244.1" width="3.4" height="3.4" fill="#ff99ff" stroke="#ff00ff" stroke-width="1.0"/>
<rect x="460.25" y="249.3" width="3.4" height="3.4" fill="#ff99ff" stroke="#ff00ff" stroke-width="1.0"/>
<rect x="467.15" y="250.8" width="3.4" height="3.4" fill="#ff99ff" stroke="#ff00ff" stroke-width="1.0"/>
<rect x="474.05" y="249.3" width="3.4" height="3.4" fill="#ff99ff" stroke="#ff00ff" stroke-width="1.0"/>
<rect x="480.96" y="244.1" width="3.4" height="3.4" fill="#ff99ff" stroke="#ff00ff" stroke-width="1.0"/>
<rect x="487.86" y="238.5" width="3.4" height="3.4" fill="#ff99ff" stroke="#ff00ff" stroke-width="1.0"/>
<rect x="494.76" y="233.6" width="3.4" height="3.4" fill="#ff99ff" stroke="#ff00ff" stroke-width="1.0"/>
<rect x="501.66" y="231.8" width="3.4" height="3.4" fill="#ff99ff" stroke="#ff00ff" stroke-width="1.0"/>
<rect x="508.57" y="231.8" width="3.4" height="3.4" fill="#ff99ff" stroke="#ff00ff" stroke-width="1.0"/>
<rect x="515.47" y="234.3" width="3.4" height="3.4" fill="#ff99ff" stroke="#ff00ff" stroke-width="1.0"/>
<rect x="522.37" y="238.1" width="3.4" height="3.4" fill="#ff99ff" stroke="#ff00ff" stroke-width="1.0"/>
<rect x="529.27" y="242.5" width="3.4" height="3.4" fill="#ff99ff" stroke="#ff00ff" stroke-width="1.0"/>
<rect x="536.18" y="246.6" width="3.4" height="3.4" fill="#ff99ff" stroke="#ff00ff" stroke-width="1.0"/>
<rect x="543.08" y="253.3" width="3.4" height="3.4" fill="#ff99ff" stroke="#ff00ff" stroke-width="1.0"/>
<rect x="549.98" y="275.9" width="3.4" height="3.4" fill="#ff99ff" stroke="#ff00ff" stroke-width="1.0"/>
<rect x="556.89" y="294.3" width="3.4" height="3.4" fill="#ff99ff" stroke="#ff00ff" stroke-width="1.0"/>
<rect x="563.79" y="308.6" width="3.4" height="3.4" fill="#ff99ff" stroke="#ff00ff" stroke-width="1.0"/>
<rect x="570.69" y="318.5" width="3.4" height="3.4" fill="#ff99ff" stroke="#ff00ff" stroke-width="1.0"/>
<rect x="577.59" y="323.9" width="3.4" height="3.4" fill="#ff99ff" stroke="#ff00ff" stroke-width="1.0"/>
<rect x="584.5" y="327.3" width="3.4" height="3.4" fill="#ff99ff" stroke="#ff00ff" stroke-width="1.0"/>
<rect x="591.4" y="328.5" width="3.4" height="3.4" fill="#ff99ff" stroke="#ff00ff" stroke-width="1.0"/>
</g>
<path d="M344.6 335.4v-2.6 M344.6 200.4v2.6 M365.31 335.4v-1.4 M365.31 200.4v1.4 M386.02 335.4v-2.6 M386.02 200.4v2.6 M406.73 335.4v-1.4 M406.73 200.4v1.4 M427.43 335.4v-2.6 M427.43 200.4v2.6 M448.14 335.4v-1.4 M448.14 200.4v1.4 M468.85 335.4v-2.6 M468.85 200.4v2.6 M489.56 335.4v-1.4 M489.56 200.4v1.4 M510.27 335.4v-2.6 M510.27 200.4v2.6 M530.98 335.4v-1.4 M530.98 200.4v1.4 M551.68 335.4v-2.6 M551.68 200.4v2.6 M572.39 335.4v-1.4 M572.39 200.4v1.4 M593.1 335.4v-2.6 M593.1 200.4v2.6 M344.6 329.53h2.6 M593.1 329.53h-2.6 M344.6 317.79h1.4 M593.1 317.79h-1.4 M344.6 306.05h2.6 M593.1 306.05h-2.6 M344.6 294.31h1.4 M593.1 294.31h-1.4 M344.6 282.57h2.6 M593.1 282.57h-2.6 M344.6 270.83h1.4 M593.1 270.83h-1.4 M344.6 259.1h2.6 M593.1 259.1h-2.6 M344.6 247.36h1.4 M593.1 247.36h-1.4 M344.6 235.62h2.6 M593.1 235.62h-2.6 M344.6 223.88h1.4 M593.1 223.88h-1.4 M344.6 212.14h2.6 M593.1 212.14h-2.6 M344.6 200.4h1.4 M593.1 200.4h-1.4" stroke="#000" stroke-width="1" fill="none"/>
<rect x="344.6" y="200.4" width="248.5" height="135" fill="none" stroke="#000" stroke-width="1.35"/>
<text transform="translate(344.6 345.6) scale(1.12 1)" class="tk" text-anchor="middle">0</text>
<text transform="translate(386.02 345.6) scale(1.12 1)" class="tk" text-anchor="middle">30</text>
<text transform="translate(427.43 345.6) scale(1.12 1)" class="tk" text-anchor="middle">60</text>
<text transform="translate(468.85 345.6) scale(1.12 1)" class="tk" text-anchor="middle">90</text>
<text transform="translate(510.27 345.6) scale(1.12 1)" class="tk" text-anchor="middle">120</text>
<text transform="translate(551.68 345.6) scale(1.12 1)" class="tk" text-anchor="middle">150</text>
<text transform="translate(593.1 345.6) scale(1.12 1)" class="tk" text-anchor="middle">180</text>
<text transform="translate(340.6 331.93) scale(1.12 1)" class="tk" text-anchor="end">2.6</text>
<text transform="translate(340.6 308.45) scale(1.12 1)" class="tk" text-anchor="end">2.8</text>
<text transform="translate(340.6 284.97) scale(1.12 1)" class="tk" text-anchor="end">3.0</text>
<text transform="translate(340.6 261.5) scale(1.12 1)" class="tk" text-anchor="end">3.2</text>
<text transform="translate(340.6 238.02) scale(1.12 1)" class="tk" text-anchor="end">3.4</text>
<text transform="translate(340.6 214.54) scale(1.12 1)" class="tk" text-anchor="end">3.6</text>
<text x="439.75" y="357.2" class="ti">Fiber angle,</text>
<text transform="translate(493.15 357.2) scale(1.2 1)" class="al">&#945;</text>
<circle cx="501.35" cy="352.2" r="1.0" fill="none" stroke="#000" stroke-width="0.55"/>
<text transform="translate(324.3 268) rotate(-90)" class="ti" text-anchor="middle">Frequency parameters,<tspan dx="3.9">&#937;</tspan></text>
<text x="311.4" y="196.6" class="lab">(d)</text>
<rect x="451.7" y="286.7" width="38.4" height="44" fill="#000"/>
<rect x="449.2" y="284.2" width="38.4" height="44" fill="#fff" stroke="#888" stroke-width="0.5"/>
<line x1="450.2" y1="290.6" x2="469.7" y2="290.6" stroke="#000000" stroke-width="1.3"/>
<rect x="458" y="288.9" width="3.4" height="3.4" fill="#999999" stroke="#000000" stroke-width="1.0"/>
<text transform="translate(472 293.6) scale(0.935 1)" class="lg">C-C</text>
<line x1="450.2" y1="301.2" x2="469.7" y2="301.2" stroke="#ff0000" stroke-width="1.3"/>
<rect x="458" y="299.5" width="3.4" height="3.4" fill="#ff9999" stroke="#ff0000" stroke-width="1.0"/>
<text transform="translate(472 304.2) scale(0.935 1)" class="lg">C-S</text>
<line x1="450.2" y1="311.8" x2="469.7" y2="311.8" stroke="#0000ff" stroke-width="1.3"/>
<rect x="458" y="310.1" width="3.4" height="3.4" fill="#9999ff" stroke="#0000ff" stroke-width="1.0"/>
<text transform="translate(472 314.8) scale(0.935 1)" class="lg">S-C</text>
<line x1="450.2" y1="322.4" x2="469.7" y2="322.4" stroke="#ff00ff" stroke-width="1.3"/>
<rect x="458" y="320.7" width="3.4" height="3.4" fill="#ff99ff" stroke="#ff00ff" stroke-width="1.0"/>
<text transform="translate(472 325.4) scale(0.935 1)" class="lg">S-S</text></g>
</svg>
</body></html>
